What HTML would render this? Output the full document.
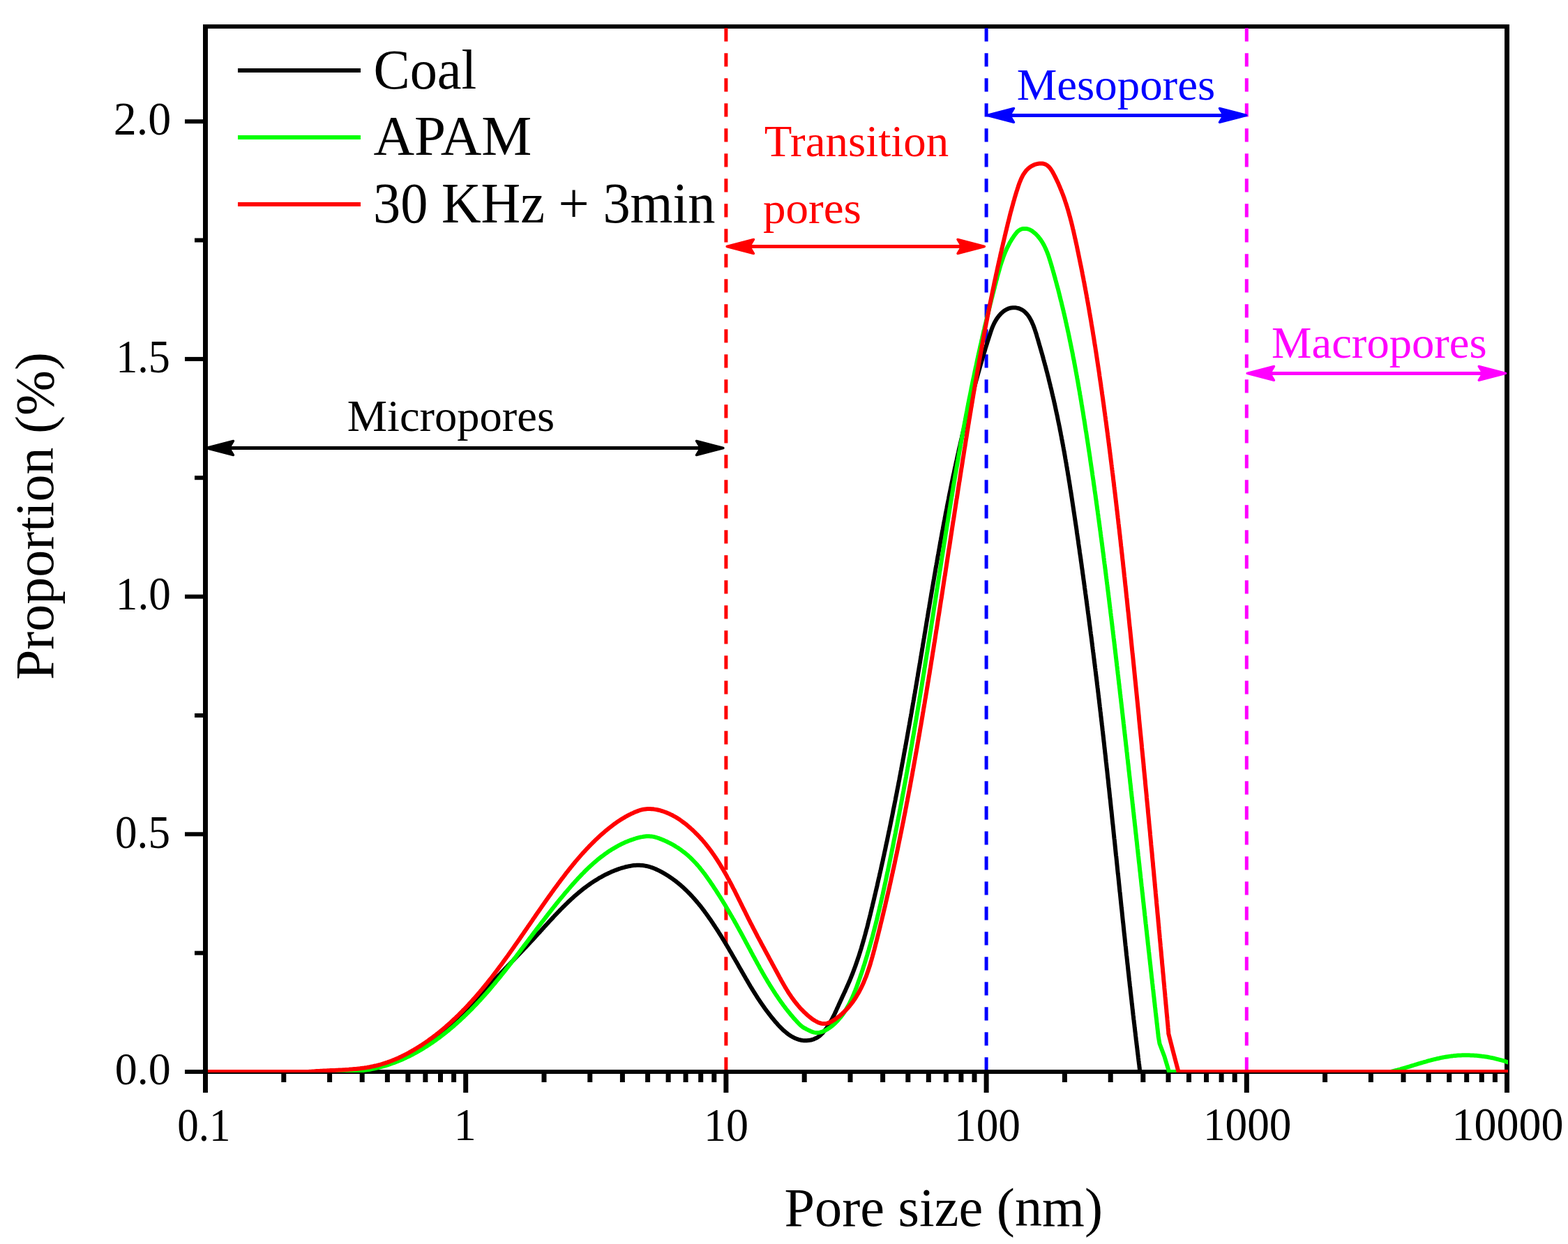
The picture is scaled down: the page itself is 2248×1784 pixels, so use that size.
<!DOCTYPE html>
<html><head><meta charset="utf-8"><style>
html,body{margin:0;padding:0;background:#fff;width:2248px;height:1784px;overflow:hidden}
svg{display:block}
</style></head><body>
<svg width="2248" height="1784" viewBox="0 0 2248 1784">
<defs><clipPath id="pc"><rect x="298" y="41" width="1864" height="1497"/></clipPath></defs>
<rect width="2248" height="1784" fill="#fff"/>
<rect x="291" y="35" width="1873" height="6" fill="#000"/>
<rect x="291" y="1534" width="1873" height="6" fill="#000"/>
<rect x="291" y="35" width="7" height="1505" fill="#000"/>
<rect x="2157" y="35" width="7" height="1505" fill="#000"/>
<rect x="291.0" y="1540" width="7" height="27" fill="#000"/>
<rect x="403.3" y="1540" width="7" height="12" fill="#000"/>
<rect x="469.1" y="1540" width="7" height="12" fill="#000"/>
<rect x="515.7" y="1540" width="7" height="12" fill="#000"/>
<rect x="551.9" y="1540" width="7" height="12" fill="#000"/>
<rect x="581.4" y="1540" width="7" height="12" fill="#000"/>
<rect x="606.4" y="1540" width="7" height="12" fill="#000"/>
<rect x="628.0" y="1540" width="7" height="12" fill="#000"/>
<rect x="647.1" y="1540" width="7" height="12" fill="#000"/>
<rect x="664.2" y="1540" width="7" height="27" fill="#000"/>
<rect x="776.5" y="1540" width="7" height="12" fill="#000"/>
<rect x="842.3" y="1540" width="7" height="12" fill="#000"/>
<rect x="888.9" y="1540" width="7" height="12" fill="#000"/>
<rect x="925.1" y="1540" width="7" height="12" fill="#000"/>
<rect x="954.6" y="1540" width="7" height="12" fill="#000"/>
<rect x="979.6" y="1540" width="7" height="12" fill="#000"/>
<rect x="1001.2" y="1540" width="7" height="12" fill="#000"/>
<rect x="1020.3" y="1540" width="7" height="12" fill="#000"/>
<rect x="1037.4" y="1540" width="7" height="27" fill="#000"/>
<rect x="1149.7" y="1540" width="7" height="12" fill="#000"/>
<rect x="1215.5" y="1540" width="7" height="12" fill="#000"/>
<rect x="1262.1" y="1540" width="7" height="12" fill="#000"/>
<rect x="1298.3" y="1540" width="7" height="12" fill="#000"/>
<rect x="1327.8" y="1540" width="7" height="12" fill="#000"/>
<rect x="1352.8" y="1540" width="7" height="12" fill="#000"/>
<rect x="1374.4" y="1540" width="7" height="12" fill="#000"/>
<rect x="1393.5" y="1540" width="7" height="12" fill="#000"/>
<rect x="1410.6" y="1540" width="7" height="27" fill="#000"/>
<rect x="1522.9" y="1540" width="7" height="12" fill="#000"/>
<rect x="1588.7" y="1540" width="7" height="12" fill="#000"/>
<rect x="1635.3" y="1540" width="7" height="12" fill="#000"/>
<rect x="1671.5" y="1540" width="7" height="12" fill="#000"/>
<rect x="1701.0" y="1540" width="7" height="12" fill="#000"/>
<rect x="1726.0" y="1540" width="7" height="12" fill="#000"/>
<rect x="1747.6" y="1540" width="7" height="12" fill="#000"/>
<rect x="1766.7" y="1540" width="7" height="12" fill="#000"/>
<rect x="1783.8" y="1540" width="7" height="27" fill="#000"/>
<rect x="1896.1" y="1540" width="7" height="12" fill="#000"/>
<rect x="1961.9" y="1540" width="7" height="12" fill="#000"/>
<rect x="2008.5" y="1540" width="7" height="12" fill="#000"/>
<rect x="2044.7" y="1540" width="7" height="12" fill="#000"/>
<rect x="2074.2" y="1540" width="7" height="12" fill="#000"/>
<rect x="2099.2" y="1540" width="7" height="12" fill="#000"/>
<rect x="2120.8" y="1540" width="7" height="12" fill="#000"/>
<rect x="2139.9" y="1540" width="7" height="12" fill="#000"/>
<rect x="2157.0" y="1540" width="7" height="27" fill="#000"/>
<rect x="265" y="1534.0" width="26" height="6" fill="#000"/>
<rect x="279" y="1363.7" width="12" height="6" fill="#000"/>
<rect x="265" y="1193.3" width="26" height="6" fill="#000"/>
<rect x="279" y="1023.0" width="12" height="6" fill="#000"/>
<rect x="265" y="852.6" width="26" height="6" fill="#000"/>
<rect x="279" y="682.2" width="12" height="6" fill="#000"/>
<rect x="265" y="511.9" width="26" height="6" fill="#000"/>
<rect x="279" y="341.5" width="12" height="6" fill="#000"/>
<rect x="265" y="171.2" width="26" height="6" fill="#000"/>
<line x1="1040.9" y1="40.2" x2="1040.9" y2="1534" stroke="#ff0000" stroke-width="5" stroke-dasharray="19.4 16.6"/>
<line x1="1414.1" y1="40.2" x2="1414.1" y2="1534" stroke="#0000ff" stroke-width="5" stroke-dasharray="19.4 16.6"/>
<line x1="1787.3" y1="40.2" x2="1787.3" y2="1534" stroke="#ff00ff" stroke-width="5" stroke-dasharray="19.4 16.6"/>
<g clip-path="url(#pc)" fill="none" stroke-width="6" stroke-linejoin="round">
<path d="M298.0 1537.0 L480.0 1537.0 L482.1 1536.9 L484.1 1536.8 L486.0 1536.7 L488.0 1536.6 L490.0 1536.5 L491.9 1536.3 L493.9 1536.2 L495.9 1536.0 L497.9 1535.9 L499.9 1535.7 L501.8 1535.5 L503.8 1535.3 L505.8 1535.1 L507.8 1534.8 L509.8 1534.6 L511.8 1534.3 L513.7 1534.0 L515.7 1533.7 L517.7 1533.4 L519.7 1533.1 L521.7 1532.8 L523.6 1532.4 L525.6 1532.1 L527.6 1531.7 L529.6 1531.3 L531.5 1530.9 L533.5 1530.5 L535.5 1530.0 L537.4 1529.6 L539.4 1529.1 L541.4 1528.7 L543.3 1528.2 L545.3 1527.7 L547.2 1527.1 L549.2 1526.6 L551.1 1526.0 L553.0 1525.5 L555.0 1524.9 L556.9 1524.3 L558.8 1523.7 L560.7 1523.1 L562.6 1522.4 L564.5 1521.8 L566.4 1521.1 L568.3 1520.4 L570.2 1519.7 L572.1 1519.0 L574.0 1518.3 L575.8 1517.5 L577.7 1516.8 L579.5 1516.0 L581.4 1515.2 L583.2 1514.4 L585.0 1513.5 L586.8 1512.7 L588.7 1511.8 L590.5 1511.0 L592.3 1510.1 L594.0 1509.2 L595.8 1508.3 L597.6 1507.3 L599.3 1506.4 L601.1 1505.4 L602.8 1504.4 L604.5 1503.4 L606.2 1502.4 L607.9 1501.3 L609.6 1500.3 L611.3 1499.2 L613.0 1498.1 L614.6 1497.0 L616.3 1495.9 L617.9 1494.8 L619.5 1493.6 L621.2 1492.5 L622.8 1491.3 L624.3 1490.1 L625.9 1488.9 L627.5 1487.7 L629.0 1486.4 L630.6 1485.2 L632.1 1483.9 L633.7 1482.6 L635.2 1481.3 L636.7 1480.0 L638.2 1478.7 L639.7 1477.4 L641.2 1476.0 L642.6 1474.7 L644.1 1473.3 L645.6 1472.0 L647.0 1470.6 L648.5 1469.2 L649.9 1467.8 L651.3 1466.4 L652.8 1465.0 L654.2 1463.6 L655.6 1462.2 L657.0 1460.7 L658.4 1459.3 L659.8 1457.9 L661.2 1456.4 L662.6 1454.9 L664.0 1453.5 L665.4 1452.0 L666.7 1450.6 L668.1 1449.1 L669.5 1447.6 L670.9 1446.1 L672.2 1444.7 L673.6 1443.2 L675.0 1441.7 L676.3 1440.2 L677.7 1438.7 L679.0 1437.2 L680.4 1435.8 L681.7 1434.3 L683.1 1432.8 L684.4 1431.3 L685.8 1429.8 L687.2 1428.3 L688.5 1426.9 L689.9 1425.4 L691.2 1423.9 L692.6 1422.4 L693.9 1421.0 L695.3 1419.5 L696.7 1418.1 L698.0 1416.6 L699.4 1415.1 L700.7 1413.7 L702.1 1412.2 L703.5 1410.8 L704.8 1409.4 L706.2 1407.9 L707.6 1406.5 L708.9 1405.0 L710.3 1403.6 L711.7 1402.2 L713.1 1400.7 L714.4 1399.3 L715.8 1397.9 L717.2 1396.5 L718.5 1395.0 L719.9 1393.6 L721.3 1392.2 L722.7 1390.8 L724.0 1389.3 L725.4 1387.9 L726.8 1386.5 L728.1 1385.1 L729.5 1383.7 L730.9 1382.2 L732.3 1380.8 L733.6 1379.4 L735.0 1378.0 L736.4 1376.5 L737.7 1375.1 L739.1 1373.7 L740.5 1372.3 L741.9 1370.8 L743.2 1369.4 L744.6 1368.0 L746.0 1366.5 L747.3 1365.1 L748.7 1363.7 L750.1 1362.2 L751.4 1360.8 L752.8 1359.3 L754.2 1357.9 L755.5 1356.5 L756.9 1355.0 L758.2 1353.5 L759.6 1352.1 L760.9 1350.6 L762.3 1349.2 L763.7 1347.7 L765.0 1346.2 L766.4 1344.8 L767.7 1343.3 L769.1 1341.8 L770.4 1340.3 L771.8 1338.8 L773.1 1337.4 L774.5 1335.9 L775.8 1334.4 L777.2 1332.9 L778.5 1331.4 L779.9 1329.9 L781.2 1328.4 L782.6 1326.9 L783.9 1325.5 L785.3 1324.0 L786.6 1322.5 L788.0 1321.0 L789.4 1319.5 L790.7 1318.1 L792.1 1316.6 L793.5 1315.1 L794.8 1313.6 L796.2 1312.2 L797.6 1310.7 L799.0 1309.3 L800.4 1307.8 L801.8 1306.4 L803.2 1304.9 L804.6 1303.5 L806.0 1302.1 L807.4 1300.7 L808.8 1299.3 L810.2 1297.9 L811.7 1296.5 L813.1 1295.1 L814.5 1293.7 L816.0 1292.3 L817.4 1291.0 L818.9 1289.6 L820.4 1288.3 L821.8 1286.9 L823.3 1285.6 L824.8 1284.3 L826.3 1283.0 L827.8 1281.7 L829.3 1280.4 L830.9 1279.1 L832.4 1277.9 L833.9 1276.7 L835.5 1275.4 L837.0 1274.2 L838.6 1273.0 L840.2 1271.8 L841.8 1270.6 L843.4 1269.5 L845.0 1268.3 L846.6 1267.2 L848.2 1266.1 L849.9 1265.0 L851.5 1263.9 L853.2 1262.8 L854.9 1261.8 L856.6 1260.8 L858.3 1259.7 L860.0 1258.7 L861.7 1257.8 L863.4 1256.8 L865.2 1255.9 L866.9 1254.9 L868.7 1254.0 L870.5 1253.2 L872.3 1252.3 L874.1 1251.5 L876.0 1250.6 L877.8 1249.8 L879.7 1249.1 L881.5 1248.3 L883.4 1247.6 L885.3 1246.9 L887.3 1246.2 L889.2 1245.5 L891.1 1244.9 L893.1 1244.3 L895.1 1243.8 L897.0 1243.2 L899.0 1242.8 L901.0 1242.3 L903.0 1242.0 L905.0 1241.6 L906.9 1241.3 L908.9 1241.1 L910.9 1240.9 L912.9 1240.8 L914.9 1240.8 L916.9 1240.8 L918.9 1240.9 L920.8 1241.1 L922.8 1241.3 L924.8 1241.6 L926.7 1242.0 L928.7 1242.4 L930.6 1242.9 L932.5 1243.5 L934.4 1244.1 L936.3 1244.8 L938.2 1245.6 L940.1 1246.3 L941.9 1247.2 L943.8 1248.0 L945.6 1249.0 L947.4 1249.9 L949.2 1250.9 L951.0 1251.9 L952.7 1252.9 L954.5 1253.9 L956.2 1255.0 L957.9 1256.1 L959.6 1257.2 L961.2 1258.3 L962.9 1259.4 L964.5 1260.6 L966.1 1261.8 L967.7 1262.9 L969.3 1264.2 L970.8 1265.4 L972.4 1266.6 L973.9 1267.9 L975.4 1269.1 L976.9 1270.4 L978.4 1271.7 L979.8 1273.1 L981.3 1274.4 L982.7 1275.8 L984.1 1277.1 L985.5 1278.5 L986.9 1279.9 L988.3 1281.3 L989.7 1282.7 L991.0 1284.2 L992.4 1285.6 L993.7 1287.1 L995.0 1288.5 L996.3 1290.0 L997.6 1291.5 L998.9 1293.0 L1000.2 1294.6 L1001.5 1296.1 L1002.7 1297.6 L1004.0 1299.2 L1005.2 1300.7 L1006.4 1302.3 L1007.6 1303.9 L1008.9 1305.5 L1010.1 1307.1 L1011.2 1308.7 L1012.4 1310.3 L1013.6 1312.0 L1014.8 1313.6 L1015.9 1315.2 L1017.1 1316.9 L1018.3 1318.6 L1019.4 1320.2 L1020.5 1321.9 L1021.7 1323.6 L1022.8 1325.3 L1023.9 1327.0 L1025.0 1328.7 L1026.1 1330.4 L1027.3 1332.1 L1028.4 1333.8 L1029.5 1335.5 L1030.5 1337.2 L1031.6 1339.0 L1032.7 1340.7 L1033.8 1342.4 L1034.9 1344.2 L1035.9 1345.9 L1037.0 1347.7 L1038.1 1349.4 L1039.1 1351.2 L1040.2 1352.9 L1041.2 1354.7 L1042.3 1356.4 L1043.3 1358.2 L1044.4 1359.9 L1045.4 1361.7 L1046.4 1363.4 L1047.4 1365.2 L1048.5 1366.9 L1049.5 1368.7 L1050.5 1370.4 L1051.5 1372.2 L1052.5 1373.9 L1053.5 1375.6 L1054.5 1377.4 L1055.5 1379.1 L1056.5 1380.8 L1057.5 1382.6 L1058.5 1384.3 L1059.4 1386.0 L1060.4 1387.7 L1061.4 1389.4 L1062.4 1391.1 L1063.3 1392.8 L1064.3 1394.5 L1065.3 1396.2 L1066.2 1397.9 L1067.2 1399.5 L1068.2 1401.2 L1069.1 1402.9 L1070.1 1404.6 L1071.1 1406.2 L1072.0 1407.9 L1073.0 1409.5 L1074.0 1411.2 L1074.9 1412.8 L1075.9 1414.5 L1076.9 1416.1 L1077.9 1417.7 L1078.9 1419.4 L1079.9 1421.0 L1080.9 1422.6 L1081.9 1424.3 L1083.0 1425.9 L1084.0 1427.5 L1085.0 1429.1 L1086.1 1430.8 L1087.1 1432.4 L1088.2 1434.0 L1089.3 1435.6 L1090.4 1437.3 L1091.5 1438.9 L1092.6 1440.5 L1093.8 1442.1 L1094.9 1443.7 L1096.1 1445.4 L1097.2 1447.0 L1098.4 1448.6 L1099.6 1450.2 L1100.9 1451.9 L1102.1 1453.5 L1103.4 1455.1 L1104.6 1456.7 L1105.9 1458.4 L1107.2 1460.0 L1108.6 1461.6 L1109.9 1463.3 L1111.3 1464.9 L1112.7 1466.5 L1114.1 1468.1 L1115.5 1469.7 L1117.0 1471.3 L1118.5 1472.8 L1120.0 1474.4 L1121.5 1475.8 L1123.0 1477.3 L1124.6 1478.7 L1126.2 1480.0 L1127.8 1481.3 L1129.4 1482.6 L1131.0 1483.8 L1132.7 1484.9 L1134.4 1486.0 L1136.1 1487.0 L1137.9 1487.9 L1139.6 1488.8 L1141.4 1489.5 L1143.2 1490.2 L1145.1 1490.8 L1146.9 1491.3 L1148.8 1491.7 L1150.7 1492.0 L1152.7 1492.2 L1154.6 1492.3 L1156.6 1492.2 L1158.6 1492.1 L1160.6 1491.8 L1162.5 1491.5 L1164.5 1491.0 L1166.4 1490.4 L1168.2 1489.6 L1170.0 1488.8 L1171.8 1487.8 L1173.5 1486.7 L1175.1 1485.5 L1176.6 1484.2 L1178.1 1482.7 L1179.5 1481.3 L1180.8 1479.7 L1182.1 1478.1 L1183.4 1476.5 L1184.6 1474.9 L1185.8 1473.3 L1186.9 1471.6 L1188.0 1469.9 L1189.0 1468.2 L1190.1 1466.5 L1191.1 1464.7 L1192.0 1463.0 L1193.0 1461.2 L1193.9 1459.4 L1194.8 1457.6 L1195.7 1455.8 L1196.6 1454.0 L1197.4 1452.2 L1198.3 1450.4 L1199.1 1448.6 L1199.9 1446.7 L1200.8 1444.9 L1201.6 1443.1 L1202.4 1441.3 L1203.2 1439.4 L1204.1 1437.6 L1204.9 1435.8 L1205.7 1434.0 L1206.6 1432.1 L1207.4 1430.3 L1208.2 1428.5 L1209.1 1426.7 L1209.9 1424.9 L1210.7 1423.1 L1211.6 1421.3 L1212.4 1419.4 L1213.2 1417.6 L1214.0 1415.8 L1214.8 1414.0 L1215.6 1412.2 L1216.4 1410.3 L1217.2 1408.5 L1218.0 1406.7 L1218.8 1404.8 L1219.5 1403.0 L1220.3 1401.2 L1221.0 1399.3 L1221.8 1397.5 L1222.5 1395.6 L1223.2 1393.7 L1223.9 1391.9 L1224.6 1390.0 L1225.3 1388.2 L1226.0 1386.3 L1226.7 1384.4 L1227.3 1382.5 L1228.0 1380.6 L1228.6 1378.8 L1229.3 1376.9 L1229.9 1375.0 L1230.5 1373.1 L1231.2 1371.2 L1231.8 1369.3 L1232.4 1367.4 L1233.0 1365.5 L1233.6 1363.6 L1234.2 1361.7 L1234.8 1359.8 L1235.3 1357.9 L1235.9 1355.9 L1236.5 1354.0 L1237.0 1352.1 L1237.6 1350.2 L1238.1 1348.2 L1238.7 1346.3 L1239.2 1344.4 L1239.7 1342.5 L1240.3 1340.5 L1240.8 1338.6 L1241.3 1336.7 L1241.8 1334.7 L1242.3 1332.8 L1242.9 1330.9 L1243.4 1328.9 L1243.9 1327.0 L1244.4 1325.0 L1244.8 1323.1 L1245.3 1321.1 L1245.8 1319.2 L1246.3 1317.2 L1246.8 1315.3 L1247.3 1313.3 L1247.8 1311.4 L1248.2 1309.4 L1248.7 1307.5 L1249.2 1305.5 L1249.6 1303.6 L1250.1 1301.6 L1250.6 1299.7 L1251.0 1297.7 L1251.5 1295.8 L1252.0 1293.8 L1252.4 1291.9 L1252.9 1289.9 L1253.4 1288.0 L1253.8 1286.0 L1254.3 1284.1 L1254.7 1282.1 L1255.2 1280.2 L1255.6 1278.2 L1256.1 1276.3 L1256.6 1274.3 L1257.0 1272.4 L1257.5 1270.4 L1257.9 1268.4 L1258.3 1266.5 L1258.8 1264.5 L1259.2 1262.6 L1259.7 1260.6 L1260.1 1258.7 L1260.6 1256.7 L1261.0 1254.8 L1261.4 1252.8 L1261.9 1250.9 L1262.3 1248.9 L1262.8 1246.9 L1263.2 1245.0 L1263.6 1243.0 L1264.1 1241.1 L1264.5 1239.1 L1264.9 1237.2 L1265.4 1235.2 L1265.8 1233.3 L1266.2 1231.3 L1266.6 1229.3 L1267.1 1227.4 L1267.5 1225.4 L1267.9 1223.5 L1268.3 1221.5 L1268.8 1219.5 L1269.2 1217.6 L1269.6 1215.6 L1270.0 1213.7 L1270.4 1211.7 L1270.8 1209.8 L1271.3 1207.8 L1271.7 1205.8 L1272.1 1203.9 L1272.5 1201.9 L1272.9 1200.0 L1273.3 1198.0 L1273.7 1196.0 L1274.1 1194.1 L1274.5 1192.1 L1275.0 1190.2 L1275.4 1188.2 L1275.8 1186.2 L1276.2 1184.3 L1276.6 1182.3 L1277.0 1180.4 L1277.4 1178.4 L1277.8 1176.4 L1278.2 1174.5 L1278.6 1172.5 L1279.0 1170.5 L1279.4 1168.6 L1279.8 1166.6 L1280.2 1164.7 L1280.5 1162.7 L1280.9 1160.7 L1281.3 1158.8 L1281.7 1156.8 L1282.1 1154.9 L1282.5 1152.9 L1282.9 1150.9 L1283.3 1149.0 L1283.7 1147.0 L1284.0 1145.0 L1284.4 1143.1 L1284.8 1141.1 L1285.2 1139.1 L1285.6 1137.2 L1286.0 1135.2 L1286.3 1133.3 L1286.7 1131.3 L1287.1 1129.3 L1287.5 1127.4 L1287.9 1125.4 L1288.2 1123.4 L1288.6 1121.5 L1289.0 1119.5 L1289.4 1117.5 L1289.7 1115.6 L1290.1 1113.6 L1290.5 1111.6 L1290.9 1109.7 L1291.2 1107.7 L1291.6 1105.7 L1292.0 1103.8 L1292.3 1101.8 L1292.7 1099.8 L1293.1 1097.9 L1293.4 1095.9 L1293.8 1093.9 L1294.2 1092.0 L1294.5 1090.0 L1294.9 1088.0 L1295.3 1086.1 L1295.6 1084.1 L1296.0 1082.1 L1296.3 1080.2 L1296.7 1078.2 L1297.1 1076.2 L1297.4 1074.3 L1297.8 1072.3 L1298.1 1070.3 L1298.5 1068.4 L1298.9 1066.4 L1299.2 1064.4 L1299.6 1062.4 L1299.9 1060.5 L1300.3 1058.5 L1300.6 1056.5 L1301.0 1054.6 L1301.3 1052.6 L1301.7 1050.6 L1302.0 1048.7 L1302.4 1046.7 L1302.7 1044.7 L1303.1 1042.7 L1303.4 1040.8 L1303.8 1038.8 L1304.1 1036.8 L1304.5 1034.9 L1304.8 1032.9 L1305.2 1030.9 L1305.5 1029.0 L1305.9 1027.0 L1306.2 1025.0 L1306.6 1023.0 L1306.9 1021.1 L1307.2 1019.1 L1307.6 1017.1 L1307.9 1015.2 L1308.3 1013.2 L1308.6 1011.2 L1308.9 1009.2 L1309.3 1007.3 L1309.6 1005.3 L1310.0 1003.3 L1310.3 1001.3 L1310.6 999.4 L1311.0 997.4 L1311.3 995.4 L1311.7 993.5 L1312.0 991.5 L1312.3 989.5 L1312.7 987.5 L1313.0 985.6 L1313.3 983.6 L1313.7 981.6 L1314.0 979.6 L1314.3 977.7 L1314.7 975.7 L1315.0 973.7 L1315.3 971.7 L1315.7 969.8 L1316.0 967.8 L1316.3 965.8 L1316.6 963.8 L1317.0 961.9 L1317.3 959.9 L1317.6 957.9 L1318.0 955.9 L1318.3 954.0 L1318.6 952.0 L1319.0 950.0 L1319.3 948.0 L1319.6 946.1 L1319.9 944.1 L1320.3 942.1 L1320.6 940.1 L1320.9 938.2 L1321.3 936.2 L1321.6 934.2 L1321.9 932.2 L1322.2 930.3 L1322.6 928.3 L1322.9 926.3 L1323.2 924.3 L1323.5 922.4 L1323.9 920.4 L1324.2 918.4 L1324.5 916.4 L1324.9 914.5 L1325.2 912.5 L1325.5 910.5 L1325.8 908.5 L1326.2 906.6 L1326.5 904.6 L1326.8 902.6 L1327.1 900.6 L1327.5 898.7 L1327.8 896.7 L1328.1 894.7 L1328.4 892.7 L1328.8 890.7 L1329.1 888.8 L1329.4 886.8 L1329.8 884.8 L1330.1 882.8 L1330.4 880.9 L1330.7 878.9 L1331.1 876.9 L1331.4 874.9 L1331.7 873.0 L1332.1 871.0 L1332.4 869.0 L1332.7 867.0 L1333.1 865.1 L1333.4 863.1 L1333.7 861.1 L1334.0 859.1 L1334.4 857.2 L1334.7 855.2 L1335.0 853.2 L1335.4 851.2 L1335.7 849.3 L1336.0 847.3 L1336.4 845.3 L1336.7 843.3 L1337.0 841.4 L1337.4 839.4 L1337.7 837.4 L1338.1 835.4 L1338.4 833.5 L1338.7 831.5 L1339.1 829.5 L1339.4 827.5 L1339.7 825.6 L1340.1 823.6 L1340.4 821.6 L1340.8 819.6 L1341.1 817.7 L1341.4 815.7 L1341.8 813.7 L1342.1 811.8 L1342.5 809.8 L1342.8 807.8 L1343.2 805.8 L1343.5 803.9 L1343.9 801.9 L1344.2 799.9 L1344.6 797.9 L1344.9 796.0 L1345.3 794.0 L1345.6 792.0 L1346.0 790.1 L1346.3 788.1 L1346.7 786.1 L1347.0 784.1 L1347.4 782.2 L1347.7 780.2 L1348.1 778.2 L1348.4 776.3 L1348.8 774.3 L1349.1 772.3 L1349.5 770.4 L1349.9 768.4 L1350.2 766.4 L1350.6 764.4 L1350.9 762.5 L1351.3 760.5 L1351.7 758.5 L1352.0 756.6 L1352.4 754.6 L1352.8 752.6 L1353.1 750.7 L1353.5 748.7 L1353.9 746.7 L1354.3 744.8 L1354.6 742.8 L1355.0 740.8 L1355.4 738.9 L1355.7 736.9 L1356.1 734.9 L1356.5 733.0 L1356.9 731.0 L1357.3 729.0 L1357.6 727.1 L1358.0 725.1 L1358.4 723.1 L1358.8 721.2 L1359.2 719.2 L1359.6 717.3 L1360.0 715.3 L1360.3 713.3 L1360.7 711.4 L1361.1 709.4 L1361.5 707.4 L1361.9 705.5 L1362.3 703.5 L1362.7 701.6 L1363.1 699.6 L1363.5 697.6 L1363.9 695.7 L1364.3 693.7 L1364.7 691.7 L1365.1 689.8 L1365.5 687.8 L1365.9 685.9 L1366.3 683.9 L1366.7 681.9 L1367.2 680.0 L1367.6 678.0 L1368.0 676.1 L1368.4 674.1 L1368.8 672.2 L1369.2 670.2 L1369.7 668.2 L1370.1 666.3 L1370.5 664.3 L1370.9 662.4 L1371.4 660.4 L1371.8 658.5 L1372.2 656.5 L1372.7 654.6 L1373.1 652.6 L1373.5 650.7 L1374.0 648.7 L1374.4 646.7 L1374.8 644.8 L1375.3 642.8 L1375.7 640.9 L1376.2 638.9 L1376.6 637.0 L1377.1 635.0 L1377.5 633.1 L1378.0 631.1 L1378.4 629.2 L1378.9 627.2 L1379.3 625.3 L1379.8 623.3 L1380.2 621.4 L1380.7 619.4 L1381.2 617.5 L1381.6 615.6 L1382.1 613.6 L1382.6 611.7 L1383.0 609.7 L1383.5 607.8 L1384.0 605.8 L1384.5 603.9 L1384.9 601.9 L1385.4 600.0 L1385.9 598.0 L1386.4 596.1 L1386.9 594.2 L1387.3 592.2 L1387.8 590.3 L1388.3 588.3 L1388.8 586.4 L1389.3 584.5 L1389.8 582.5 L1390.3 580.6 L1390.8 578.6 L1391.3 576.7 L1391.8 574.8 L1392.3 572.8 L1392.8 570.9 L1393.3 569.0 L1393.8 567.0 L1394.3 565.1 L1394.8 563.1 L1395.3 561.2 L1395.9 559.3 L1396.4 557.3 L1396.9 555.4 L1397.4 553.5 L1397.9 551.5 L1398.5 549.6 L1399.0 547.7 L1399.5 545.8 L1400.1 543.8 L1400.6 541.9 L1401.1 540.0 L1401.7 538.0 L1402.2 536.1 L1402.7 534.2 L1403.3 532.3 L1403.8 530.3 L1404.4 528.4 L1404.9 526.5 L1405.5 524.5 L1406.0 522.6 L1406.6 520.7 L1407.1 518.8 L1407.7 516.9 L1408.3 514.9 L1408.8 513.0 L1409.4 511.1 L1410.0 509.2 L1410.5 507.3 L1411.1 505.4 L1411.7 503.5 L1412.3 501.6 L1412.8 499.7 L1413.4 497.8 L1414.0 495.9 L1414.6 494.0 L1415.2 492.1 L1415.8 490.2 L1416.4 488.3 L1417.0 486.4 L1417.6 484.6 L1418.2 482.7 L1418.8 480.8 L1419.4 479.0 L1420.0 477.1 L1420.6 475.3 L1421.3 473.4 L1421.9 471.6 L1422.6 469.7 L1423.4 467.9 L1424.2 466.1 L1425.0 464.3 L1425.9 462.5 L1426.9 460.7 L1428.0 458.9 L1429.1 457.1 L1430.3 455.4 L1431.6 453.7 L1433.0 452.0 L1434.4 450.4 L1435.9 448.9 L1437.5 447.5 L1439.1 446.2 L1440.8 445.1 L1442.6 444.0 L1444.4 443.1 L1446.2 442.4 L1448.1 441.8 L1450.0 441.5 L1452.0 441.3 L1453.9 441.2 L1455.9 441.3 L1457.8 441.6 L1459.6 442.0 L1461.4 442.5 L1463.0 443.2 L1464.6 444.0 L1466.2 444.9 L1467.6 445.9 L1469.0 447.0 L1470.3 448.3 L1471.6 449.6 L1472.8 451.0 L1474.0 452.5 L1475.1 454.1 L1476.1 455.7 L1477.1 457.4 L1478.0 459.2 L1479.0 461.0 L1479.8 462.9 L1480.7 464.9 L1481.5 466.8 L1482.2 468.9 L1483.0 470.9 L1483.7 473.0 L1484.4 475.1 L1485.1 477.2 L1485.8 479.3 L1486.4 481.5 L1487.0 483.6 L1487.7 485.7 L1488.3 487.9 L1488.9 490.0 L1489.5 492.1 L1490.1 494.2 L1490.7 496.3 L1491.3 498.4 L1491.9 500.4 L1492.5 502.5 L1493.1 504.6 L1493.7 506.6 L1494.3 508.7 L1494.8 510.7 L1495.4 512.7 L1495.9 514.8 L1496.5 516.8 L1497.0 518.8 L1497.6 520.8 L1498.1 522.8 L1498.7 524.8 L1499.2 526.8 L1499.7 528.8 L1500.2 530.8 L1500.7 532.7 L1501.3 534.7 L1501.8 536.7 L1502.3 538.7 L1502.8 540.6 L1503.3 542.6 L1503.7 544.5 L1504.2 546.5 L1504.7 548.4 L1505.2 550.4 L1505.7 552.3 L1506.1 554.2 L1506.6 556.2 L1507.1 558.1 L1507.5 560.0 L1508.0 561.9 L1508.4 563.9 L1508.9 565.8 L1509.3 567.7 L1509.8 569.6 L1510.2 571.5 L1510.7 573.4 L1511.1 575.3 L1511.5 577.2 L1511.9 579.1 L1512.4 581.1 L1512.8 583.0 L1513.2 584.9 L1513.6 586.8 L1514.0 588.7 L1514.4 590.6 L1514.8 592.5 L1515.3 594.4 L1515.7 596.3 L1516.1 598.2 L1516.4 600.1 L1516.8 602.0 L1517.2 603.9 L1517.6 605.8 L1518.0 607.7 L1518.4 609.6 L1518.8 611.5 L1519.2 613.4 L1519.5 615.4 L1519.9 617.3 L1520.3 619.2 L1520.7 621.1 L1521.0 623.0 L1521.4 625.0 L1521.8 626.9 L1522.1 628.8 L1522.5 630.8 L1522.9 632.7 L1523.2 634.6 L1523.6 636.6 L1524.0 638.5 L1524.3 640.5 L1524.7 642.4 L1525.0 644.3 L1525.4 646.3 L1525.7 648.2 L1526.1 650.2 L1526.4 652.2 L1526.8 654.1 L1527.1 656.1 L1527.4 658.0 L1527.8 660.0 L1528.1 662.0 L1528.5 663.9 L1528.8 665.9 L1529.1 667.8 L1529.5 669.8 L1529.8 671.8 L1530.1 673.8 L1530.5 675.7 L1530.8 677.7 L1531.1 679.7 L1531.4 681.7 L1531.8 683.6 L1532.1 685.6 L1532.4 687.6 L1532.7 689.6 L1533.1 691.6 L1533.4 693.6 L1533.7 695.5 L1534.0 697.5 L1534.3 699.5 L1534.6 701.5 L1535.0 703.5 L1535.3 705.5 L1535.6 707.5 L1535.9 709.5 L1536.2 711.5 L1536.5 713.4 L1536.8 715.4 L1537.1 717.4 L1537.4 719.4 L1537.7 721.4 L1538.0 723.4 L1538.3 725.4 L1538.6 727.4 L1538.9 729.4 L1539.2 731.4 L1539.5 733.4 L1539.8 735.4 L1540.1 737.4 L1540.4 739.4 L1540.7 741.4 L1541.0 743.4 L1541.3 745.4 L1541.6 747.4 L1541.9 749.4 L1542.2 751.4 L1542.5 753.4 L1542.8 755.4 L1543.1 757.4 L1543.4 759.4 L1543.7 761.4 L1543.9 763.4 L1544.2 765.4 L1544.5 767.4 L1544.8 769.4 L1545.1 771.4 L1545.4 773.4 L1545.7 775.4 L1546.0 777.4 L1546.2 779.4 L1546.5 781.4 L1546.8 783.4 L1547.1 785.4 L1547.4 787.4 L1547.7 789.4 L1547.9 791.4 L1548.2 793.4 L1548.5 795.4 L1548.8 797.3 L1549.1 799.3 L1549.4 801.3 L1549.6 803.3 L1549.9 805.3 L1550.2 807.3 L1550.5 809.3 L1550.7 811.3 L1551.0 813.3 L1551.3 815.3 L1551.6 817.3 L1551.9 819.3 L1552.1 821.2 L1552.4 823.2 L1552.7 825.2 L1553.0 827.2 L1553.2 829.2 L1553.5 831.2 L1553.8 833.2 L1554.1 835.2 L1554.3 837.2 L1554.6 839.1 L1554.9 841.1 L1555.1 843.1 L1555.4 845.1 L1555.7 847.1 L1556.0 849.1 L1556.2 851.1 L1556.5 853.1 L1556.8 855.0 L1557.0 857.0 L1557.3 859.0 L1557.6 861.0 L1557.8 863.0 L1558.1 865.0 L1558.4 867.0 L1558.6 868.9 L1558.9 870.9 L1559.2 872.9 L1559.4 874.9 L1559.7 876.9 L1559.9 878.9 L1560.2 880.8 L1560.5 882.8 L1560.7 884.8 L1561.0 886.8 L1561.3 888.8 L1561.5 890.8 L1561.8 892.7 L1562.0 894.7 L1562.3 896.7 L1562.6 898.7 L1562.8 900.7 L1563.1 902.7 L1563.3 904.6 L1563.6 906.6 L1563.8 908.6 L1564.1 910.6 L1564.4 912.6 L1564.6 914.5 L1564.9 916.5 L1565.1 918.5 L1565.4 920.5 L1565.6 922.5 L1565.9 924.5 L1566.1 926.4 L1566.4 928.4 L1566.6 930.4 L1566.9 932.4 L1567.1 934.4 L1567.4 936.3 L1567.6 938.3 L1567.9 940.3 L1568.1 942.3 L1568.4 944.3 L1568.6 946.2 L1568.9 948.2 L1569.1 950.2 L1569.4 952.2 L1569.6 954.2 L1569.9 956.1 L1570.1 958.1 L1570.4 960.1 L1570.6 962.1 L1570.9 964.1 L1571.1 966.1 L1571.3 968.0 L1571.6 970.0 L1571.8 972.0 L1572.1 974.0 L1572.3 976.0 L1572.6 977.9 L1572.8 979.9 L1573.0 981.9 L1573.3 983.9 L1573.5 985.9 L1573.8 987.9 L1574.0 989.8 L1574.2 991.8 L1574.5 993.8 L1574.7 995.8 L1574.9 997.8 L1575.2 999.7 L1575.4 1001.7 L1575.7 1003.7 L1575.9 1005.7 L1576.1 1007.7 L1576.4 1009.7 L1576.6 1011.6 L1576.8 1013.6 L1577.1 1015.6 L1577.3 1017.6 L1577.5 1019.6 L1577.8 1021.6 L1578.0 1023.5 L1578.2 1025.5 L1578.4 1027.5 L1578.7 1029.5 L1578.9 1031.5 L1579.1 1033.5 L1579.4 1035.5 L1579.6 1037.4 L1579.8 1039.4 L1580.1 1041.4 L1580.3 1043.4 L1580.5 1045.4 L1580.7 1047.4 L1581.0 1049.4 L1581.2 1051.3 L1581.4 1053.3 L1581.6 1055.3 L1581.9 1057.3 L1582.1 1059.3 L1582.3 1061.3 L1582.5 1063.3 L1582.8 1065.3 L1583.0 1067.2 L1583.2 1069.2 L1583.4 1071.2 L1583.6 1073.2 L1583.9 1075.2 L1584.1 1077.2 L1584.3 1079.2 L1584.5 1081.2 L1584.8 1083.1 L1585.0 1085.1 L1585.2 1087.1 L1585.4 1089.1 L1585.6 1091.1 L1585.8 1093.1 L1586.1 1095.1 L1586.3 1097.1 L1586.5 1099.1 L1586.7 1101.0 L1586.9 1103.0 L1587.2 1105.0 L1587.4 1107.0 L1587.6 1109.0 L1587.8 1111.0 L1588.0 1113.0 L1588.2 1115.0 L1588.5 1117.0 L1588.7 1119.0 L1588.9 1120.9 L1589.1 1122.9 L1589.3 1124.9 L1589.5 1126.9 L1589.7 1128.9 L1590.0 1130.9 L1590.2 1132.9 L1590.4 1134.9 L1590.6 1136.9 L1590.8 1138.9 L1591.0 1140.9 L1591.2 1142.9 L1591.4 1144.8 L1591.7 1146.8 L1591.9 1148.8 L1592.1 1150.8 L1592.3 1152.8 L1592.5 1154.8 L1592.7 1156.8 L1592.9 1158.8 L1593.1 1160.8 L1593.4 1162.8 L1593.6 1164.8 L1593.8 1166.8 L1594.0 1168.7 L1594.2 1170.7 L1594.4 1172.7 L1594.6 1174.7 L1594.8 1176.7 L1595.0 1178.7 L1595.2 1180.7 L1595.5 1182.7 L1595.7 1184.7 L1595.9 1186.7 L1596.1 1188.7 L1596.3 1190.7 L1596.5 1192.7 L1596.7 1194.7 L1596.9 1196.7 L1597.1 1198.6 L1597.3 1200.6 L1597.5 1202.6 L1597.8 1204.6 L1598.0 1206.6 L1598.2 1208.6 L1598.4 1210.6 L1598.6 1212.6 L1598.8 1214.6 L1599.0 1216.6 L1599.2 1218.6 L1599.4 1220.6 L1599.6 1222.6 L1599.8 1224.6 L1600.0 1226.6 L1600.3 1228.5 L1600.5 1230.5 L1600.7 1232.5 L1600.9 1234.5 L1601.1 1236.5 L1601.3 1238.5 L1601.5 1240.5 L1601.7 1242.5 L1601.9 1244.5 L1602.1 1246.5 L1602.3 1248.5 L1602.5 1250.5 L1602.7 1252.5 L1603.0 1254.5 L1603.2 1256.5 L1603.4 1258.5 L1603.6 1260.4 L1603.8 1262.4 L1604.0 1264.4 L1604.2 1266.4 L1604.4 1268.4 L1604.6 1270.4 L1604.8 1272.4 L1605.0 1274.4 L1605.2 1276.4 L1605.4 1278.4 L1605.7 1280.4 L1605.9 1282.4 L1606.1 1284.4 L1606.3 1286.4 L1606.5 1288.4 L1606.7 1290.4 L1606.9 1292.3 L1607.1 1294.3 L1607.3 1296.3 L1607.5 1298.3 L1607.7 1300.3 L1607.9 1302.3 L1608.2 1304.3 L1608.4 1306.3 L1608.6 1308.3 L1608.8 1310.3 L1609.0 1312.3 L1609.2 1314.3 L1609.4 1316.3 L1609.6 1318.3 L1609.8 1320.3 L1610.0 1322.3 L1610.3 1324.2 L1610.5 1326.2 L1610.7 1328.2 L1610.9 1330.2 L1611.1 1332.2 L1611.3 1334.2 L1611.5 1336.2 L1611.7 1338.2 L1611.9 1340.2 L1612.2 1342.2 L1612.4 1344.2 L1612.6 1346.2 L1612.8 1348.2 L1613.0 1350.2 L1613.2 1352.1 L1613.4 1354.1 L1613.6 1356.1 L1613.9 1358.1 L1614.1 1360.1 L1614.3 1362.1 L1614.5 1364.1 L1614.7 1366.1 L1614.9 1368.1 L1615.1 1370.1 L1615.4 1372.1 L1615.6 1374.1 L1615.8 1376.0 L1616.0 1378.0 L1616.2 1380.0 L1616.4 1382.0 L1616.7 1384.0 L1616.9 1386.0 L1617.1 1388.0 L1617.3 1390.0 L1617.5 1392.0 L1617.7 1394.0 L1618.0 1396.0 L1618.2 1397.9 L1618.4 1399.9 L1618.6 1401.9 L1618.8 1403.9 L1619.0 1405.9 L1619.3 1407.9 L1619.5 1409.9 L1619.7 1411.9 L1619.9 1413.9 L1620.2 1415.9 L1620.4 1417.8 L1620.6 1419.8 L1620.8 1421.8 L1621.0 1423.8 L1621.3 1425.8 L1621.5 1427.8 L1621.7 1429.8 L1621.9 1431.8 L1622.2 1433.8 L1622.4 1435.7 L1622.6 1437.7 L1622.8 1439.7 L1623.1 1441.7 L1623.3 1443.7 L1623.5 1445.7 L1623.7 1447.7 L1624.0 1449.7 L1624.2 1451.6 L1624.4 1453.6 L1624.6 1455.6 L1624.9 1457.6 L1625.1 1459.6 L1625.3 1461.6 L1625.6 1463.6 L1625.8 1465.6 L1626.0 1467.5 L1626.3 1469.5 L1626.5 1471.5 L1626.7 1473.5 L1627.0 1475.5 L1627.2 1477.5 L1627.4 1479.5 L1627.7 1481.4 L1627.9 1483.4 L1628.1 1485.4 L1628.4 1487.4 L1628.6 1489.4 L1628.8 1491.4 L1629.1 1493.3 L1629.3 1495.3 L1629.5 1497.3 L1629.8 1499.3 L1630.0 1501.3 L1630.3 1503.3 L1630.5 1505.2 L1630.7 1507.2 L1631.0 1509.2 L1631.2 1511.2 L1631.5 1513.2 L1631.7 1515.2 L1631.9 1517.1 L1632.2 1519.1 L1632.4 1521.1 L1632.7 1523.1 L1632.9 1525.1 L1633.2 1527.0 L1633.4 1529.0 L1633.6 1531.0 L1633.9 1533.0 L1634.1 1535.0 L1634.8 1537.0 L2170.0 1537.0" stroke="#000000"/>
<path d="M298.0 1537.0 L500.0 1537.0 L501.7 1536.6 L503.7 1536.5 L505.8 1536.4 L507.9 1536.3 L509.9 1536.2 L512.0 1536.0 L514.0 1535.9 L516.1 1535.7 L518.1 1535.4 L520.1 1535.2 L522.1 1534.9 L524.1 1534.6 L526.1 1534.3 L528.1 1534.0 L530.1 1533.7 L532.1 1533.3 L534.1 1532.9 L536.0 1532.5 L538.0 1532.1 L540.0 1531.6 L541.9 1531.2 L543.9 1530.7 L545.8 1530.2 L547.7 1529.6 L549.6 1529.1 L551.5 1528.5 L553.5 1528.0 L555.4 1527.4 L557.2 1526.8 L559.1 1526.1 L561.0 1525.5 L562.9 1524.8 L564.8 1524.1 L566.6 1523.4 L568.5 1522.7 L570.3 1522.0 L572.1 1521.2 L574.0 1520.5 L575.8 1519.7 L577.6 1518.9 L579.4 1518.1 L581.2 1517.3 L583.0 1516.4 L584.8 1515.5 L586.6 1514.7 L588.4 1513.8 L590.2 1512.9 L591.9 1512.0 L593.7 1511.0 L595.4 1510.1 L597.2 1509.1 L598.9 1508.2 L600.6 1507.2 L602.4 1506.2 L604.1 1505.2 L605.8 1504.1 L607.5 1503.1 L609.2 1502.0 L610.9 1501.0 L612.6 1499.9 L614.2 1498.8 L615.9 1497.7 L617.6 1496.6 L619.2 1495.5 L620.9 1494.4 L622.5 1493.2 L624.2 1492.1 L625.8 1490.9 L627.4 1489.7 L629.0 1488.5 L630.6 1487.3 L632.2 1486.1 L633.8 1484.9 L635.4 1483.7 L637.0 1482.4 L638.6 1481.2 L640.1 1479.9 L641.7 1478.7 L643.2 1477.4 L644.8 1476.1 L646.3 1474.8 L647.9 1473.5 L649.4 1472.2 L650.9 1470.9 L652.4 1469.6 L653.9 1468.3 L655.4 1466.9 L656.9 1465.6 L658.4 1464.2 L659.9 1462.9 L661.3 1461.5 L662.8 1460.1 L664.3 1458.8 L665.7 1457.4 L667.1 1456.0 L668.6 1454.6 L670.0 1453.2 L671.4 1451.8 L672.9 1450.4 L674.3 1449.0 L675.7 1447.6 L677.1 1446.1 L678.5 1444.7 L679.8 1443.3 L681.2 1441.8 L682.6 1440.4 L684.0 1438.9 L685.3 1437.5 L686.7 1436.0 L688.0 1434.6 L689.4 1433.1 L690.7 1431.6 L692.1 1430.1 L693.4 1428.6 L694.7 1427.2 L696.0 1425.7 L697.4 1424.2 L698.7 1422.7 L700.0 1421.2 L701.3 1419.7 L702.6 1418.2 L703.9 1416.6 L705.2 1415.1 L706.4 1413.6 L707.7 1412.1 L709.0 1410.6 L710.3 1409.0 L711.5 1407.5 L712.8 1405.9 L714.1 1404.4 L715.3 1402.9 L716.6 1401.3 L717.8 1399.8 L719.1 1398.2 L720.3 1396.7 L721.6 1395.1 L722.8 1393.5 L724.1 1392.0 L725.3 1390.4 L726.5 1388.8 L727.8 1387.3 L729.0 1385.7 L730.2 1384.1 L731.4 1382.6 L732.7 1381.0 L733.9 1379.4 L735.1 1377.8 L736.3 1376.2 L737.5 1374.7 L738.8 1373.1 L740.0 1371.5 L741.2 1369.9 L742.4 1368.3 L743.6 1366.7 L744.8 1365.1 L746.0 1363.5 L747.2 1361.9 L748.4 1360.3 L749.6 1358.7 L750.8 1357.1 L752.0 1355.5 L753.3 1353.9 L754.5 1352.3 L755.7 1350.7 L756.9 1349.1 L758.1 1347.5 L759.3 1345.9 L760.5 1344.3 L761.7 1342.7 L762.9 1341.1 L764.1 1339.5 L765.3 1337.9 L766.5 1336.3 L767.7 1334.7 L768.9 1333.1 L770.1 1331.5 L771.4 1329.9 L772.6 1328.3 L773.8 1326.7 L775.0 1325.1 L776.2 1323.5 L777.4 1321.9 L778.7 1320.4 L779.9 1318.8 L781.1 1317.2 L782.3 1315.6 L783.6 1314.0 L784.8 1312.4 L786.0 1310.8 L787.3 1309.2 L788.5 1307.6 L789.7 1306.1 L791.0 1304.5 L792.2 1302.9 L793.5 1301.3 L794.7 1299.7 L796.0 1298.2 L797.2 1296.6 L798.5 1295.0 L799.8 1293.5 L801.0 1291.9 L802.3 1290.3 L803.6 1288.8 L804.9 1287.2 L806.2 1285.7 L807.5 1284.1 L808.7 1282.6 L810.0 1281.0 L811.3 1279.5 L812.7 1278.0 L814.0 1276.4 L815.3 1274.9 L816.6 1273.4 L817.9 1271.8 L819.3 1270.3 L820.6 1268.8 L821.9 1267.3 L823.3 1265.8 L824.6 1264.3 L826.0 1262.8 L827.4 1261.3 L828.7 1259.8 L830.1 1258.3 L831.5 1256.9 L832.9 1255.4 L834.3 1253.9 L835.7 1252.5 L837.1 1251.1 L838.5 1249.6 L839.9 1248.2 L841.4 1246.8 L842.8 1245.4 L844.3 1244.0 L845.7 1242.7 L847.2 1241.3 L848.7 1240.0 L850.2 1238.6 L851.7 1237.3 L853.2 1236.0 L854.7 1234.7 L856.2 1233.4 L857.7 1232.2 L859.3 1230.9 L860.8 1229.7 L862.4 1228.5 L864.0 1227.3 L865.6 1226.1 L867.1 1224.9 L868.8 1223.8 L870.4 1222.7 L872.0 1221.5 L873.6 1220.4 L875.3 1219.4 L877.0 1218.3 L878.6 1217.3 L880.3 1216.3 L882.0 1215.3 L883.7 1214.3 L885.5 1213.3 L887.2 1212.4 L889.0 1211.5 L890.7 1210.6 L892.5 1209.8 L894.3 1208.9 L896.1 1208.1 L897.9 1207.3 L899.8 1206.6 L901.6 1205.8 L903.5 1205.1 L905.4 1204.4 L907.3 1203.8 L909.2 1203.1 L911.1 1202.5 L913.0 1201.9 L915.0 1201.4 L916.9 1200.9 L918.9 1200.4 L920.9 1200.1 L922.9 1199.7 L924.9 1199.5 L926.8 1199.3 L928.8 1199.2 L930.8 1199.3 L932.8 1199.4 L934.8 1199.6 L936.7 1199.9 L938.7 1200.4 L940.6 1200.9 L942.6 1201.5 L944.5 1202.1 L946.4 1202.9 L948.3 1203.6 L950.2 1204.4 L952.0 1205.1 L953.9 1206.0 L955.7 1206.8 L957.5 1207.7 L959.3 1208.6 L961.1 1209.5 L962.8 1210.4 L964.6 1211.4 L966.3 1212.4 L968.0 1213.4 L969.7 1214.5 L971.4 1215.5 L973.1 1216.6 L974.7 1217.8 L976.3 1218.9 L977.9 1220.1 L979.5 1221.3 L981.1 1222.5 L982.6 1223.7 L984.2 1225.0 L985.7 1226.3 L987.2 1227.6 L988.6 1228.9 L990.1 1230.3 L991.5 1231.7 L992.9 1233.1 L994.3 1234.5 L995.7 1236.0 L997.1 1237.4 L998.4 1238.9 L999.8 1240.4 L1001.1 1241.9 L1002.4 1243.4 L1003.7 1245.0 L1004.9 1246.6 L1006.2 1248.1 L1007.4 1249.7 L1008.6 1251.3 L1009.9 1252.9 L1011.1 1254.5 L1012.3 1256.2 L1013.4 1257.8 L1014.6 1259.5 L1015.8 1261.1 L1016.9 1262.8 L1018.1 1264.4 L1019.2 1266.1 L1020.3 1267.8 L1021.5 1269.4 L1022.6 1271.1 L1023.7 1272.8 L1024.8 1274.5 L1025.9 1276.1 L1027.0 1277.8 L1028.0 1279.5 L1029.1 1281.2 L1030.2 1282.9 L1031.2 1284.5 L1032.3 1286.2 L1033.4 1287.9 L1034.4 1289.6 L1035.5 1291.3 L1036.5 1293.0 L1037.5 1294.7 L1038.6 1296.4 L1039.6 1298.1 L1040.6 1299.8 L1041.6 1301.5 L1042.6 1303.2 L1043.6 1304.9 L1044.6 1306.6 L1045.6 1308.3 L1046.6 1310.0 L1047.6 1311.7 L1048.6 1313.4 L1049.6 1315.1 L1050.6 1316.9 L1051.6 1318.6 L1052.6 1320.3 L1053.5 1322.0 L1054.5 1323.8 L1055.5 1325.5 L1056.4 1327.2 L1057.4 1329.0 L1058.4 1330.7 L1059.3 1332.5 L1060.3 1334.2 L1061.3 1336.0 L1062.2 1337.7 L1063.2 1339.5 L1064.1 1341.2 L1065.1 1343.0 L1066.0 1344.8 L1067.0 1346.5 L1067.9 1348.3 L1068.9 1350.1 L1069.8 1351.9 L1070.8 1353.6 L1071.7 1355.4 L1072.7 1357.2 L1073.6 1359.0 L1074.6 1360.7 L1075.5 1362.5 L1076.5 1364.3 L1077.4 1366.1 L1078.4 1367.9 L1079.3 1369.7 L1080.3 1371.4 L1081.3 1373.2 L1082.2 1375.0 L1083.2 1376.8 L1084.2 1378.5 L1085.1 1380.3 L1086.1 1382.1 L1087.1 1383.9 L1088.1 1385.6 L1089.0 1387.4 L1090.0 1389.2 L1091.0 1390.9 L1092.0 1392.7 L1093.0 1394.5 L1094.0 1396.2 L1095.0 1398.0 L1096.0 1399.7 L1097.0 1401.4 L1098.1 1403.2 L1099.1 1404.9 L1100.1 1406.7 L1101.1 1408.4 L1102.2 1410.1 L1103.2 1411.8 L1104.3 1413.5 L1105.3 1415.2 L1106.4 1416.9 L1107.5 1418.6 L1108.6 1420.3 L1109.6 1422.0 L1110.7 1423.7 L1111.8 1425.4 L1112.9 1427.0 L1114.1 1428.7 L1115.2 1430.4 L1116.3 1432.0 L1117.4 1433.6 L1118.6 1435.3 L1119.7 1436.9 L1120.9 1438.5 L1122.1 1440.1 L1123.2 1441.7 L1124.4 1443.3 L1125.6 1444.9 L1126.8 1446.5 L1128.0 1448.0 L1129.3 1449.6 L1130.5 1451.1 L1131.8 1452.7 L1133.0 1454.2 L1134.3 1455.7 L1135.6 1457.2 L1136.8 1458.7 L1138.1 1460.2 L1139.4 1461.7 L1140.8 1463.1 L1142.1 1464.6 L1143.4 1466.0 L1144.8 1467.5 L1146.2 1468.9 L1147.6 1470.2 L1149.1 1471.5 L1150.6 1472.7 L1152.2 1473.8 L1154.0 1474.7 L1155.8 1475.7 L1157.6 1476.6 L1159.5 1477.6 L1161.5 1478.5 L1163.5 1479.4 L1165.4 1480.1 L1167.4 1480.6 L1169.4 1480.9 L1171.3 1481.0 L1173.2 1480.9 L1175.1 1480.6 L1177.0 1480.2 L1178.8 1479.6 L1180.6 1478.9 L1182.4 1478.1 L1184.1 1477.2 L1185.9 1476.2 L1187.5 1475.1 L1189.2 1474.0 L1190.8 1472.8 L1192.4 1471.6 L1193.9 1470.4 L1195.4 1469.1 L1196.9 1467.7 L1198.3 1466.4 L1199.7 1465.0 L1201.0 1463.6 L1202.3 1462.1 L1203.6 1460.6 L1204.9 1459.1 L1206.1 1457.6 L1207.3 1456.0 L1208.5 1454.4 L1209.6 1452.8 L1210.7 1451.1 L1211.8 1449.5 L1212.9 1447.8 L1213.9 1446.1 L1214.9 1444.3 L1215.9 1442.6 L1216.9 1440.8 L1217.8 1439.0 L1218.7 1437.2 L1219.6 1435.4 L1220.5 1433.5 L1221.4 1431.7 L1222.2 1429.8 L1223.0 1427.9 L1223.9 1426.0 L1224.6 1424.1 L1225.4 1422.2 L1226.2 1420.3 L1226.9 1418.3 L1227.7 1416.4 L1228.4 1414.5 L1229.1 1412.5 L1229.8 1410.6 L1230.5 1408.6 L1231.2 1406.6 L1231.9 1404.7 L1232.6 1402.7 L1233.3 1400.8 L1233.9 1398.8 L1234.6 1396.9 L1235.3 1394.9 L1235.9 1393.0 L1236.6 1391.0 L1237.2 1389.1 L1237.8 1387.1 L1238.4 1385.2 L1239.1 1383.2 L1239.7 1381.3 L1240.3 1379.3 L1240.9 1377.4 L1241.5 1375.4 L1242.1 1373.5 L1242.7 1371.5 L1243.3 1369.6 L1243.8 1367.6 L1244.4 1365.7 L1245.0 1363.8 L1245.6 1361.8 L1246.1 1359.9 L1246.7 1357.9 L1247.2 1356.0 L1247.8 1354.0 L1248.3 1352.1 L1248.9 1350.2 L1249.4 1348.2 L1249.9 1346.3 L1250.5 1344.3 L1251.0 1342.4 L1251.5 1340.5 L1252.0 1338.5 L1252.5 1336.6 L1253.0 1334.7 L1253.5 1332.7 L1254.0 1330.8 L1254.5 1328.8 L1255.0 1326.9 L1255.5 1325.0 L1256.0 1323.0 L1256.5 1321.1 L1257.0 1319.2 L1257.4 1317.2 L1257.9 1315.3 L1258.4 1313.3 L1258.8 1311.4 L1259.3 1309.5 L1259.8 1307.5 L1260.2 1305.6 L1260.7 1303.7 L1261.1 1301.7 L1261.6 1299.8 L1262.0 1297.9 L1262.5 1295.9 L1262.9 1294.0 L1263.4 1292.0 L1263.8 1290.1 L1264.2 1288.2 L1264.7 1286.2 L1265.1 1284.3 L1265.6 1282.4 L1266.0 1280.4 L1266.4 1278.5 L1266.8 1276.5 L1267.3 1274.6 L1267.7 1272.7 L1268.1 1270.7 L1268.5 1268.8 L1268.9 1266.8 L1269.4 1264.9 L1269.8 1263.0 L1270.2 1261.0 L1270.6 1259.1 L1271.0 1257.1 L1271.4 1255.2 L1271.8 1253.3 L1272.2 1251.3 L1272.7 1249.4 L1273.1 1247.4 L1273.5 1245.5 L1273.9 1243.5 L1274.3 1241.6 L1274.7 1239.6 L1275.1 1237.7 L1275.5 1235.7 L1275.9 1233.8 L1276.3 1231.9 L1276.7 1229.9 L1277.1 1228.0 L1277.5 1226.0 L1277.9 1224.1 L1278.3 1222.1 L1278.7 1220.2 L1279.1 1218.2 L1279.5 1216.3 L1279.9 1214.3 L1280.3 1212.4 L1280.7 1210.4 L1281.0 1208.5 L1281.4 1206.5 L1281.8 1204.5 L1282.2 1202.6 L1282.6 1200.6 L1283.0 1198.7 L1283.4 1196.7 L1283.8 1194.8 L1284.1 1192.8 L1284.5 1190.9 L1284.9 1188.9 L1285.3 1187.0 L1285.7 1185.0 L1286.1 1183.0 L1286.4 1181.1 L1286.8 1179.1 L1287.2 1177.2 L1287.6 1175.2 L1288.0 1173.2 L1288.3 1171.3 L1288.7 1169.3 L1289.1 1167.4 L1289.5 1165.4 L1289.8 1163.4 L1290.2 1161.5 L1290.6 1159.5 L1291.0 1157.6 L1291.3 1155.6 L1291.7 1153.6 L1292.1 1151.7 L1292.4 1149.7 L1292.8 1147.7 L1293.2 1145.8 L1293.5 1143.8 L1293.9 1141.9 L1294.3 1139.9 L1294.6 1137.9 L1295.0 1136.0 L1295.4 1134.0 L1295.7 1132.0 L1296.1 1130.1 L1296.4 1128.1 L1296.8 1126.1 L1297.2 1124.2 L1297.5 1122.2 L1297.9 1120.2 L1298.2 1118.3 L1298.6 1116.3 L1299.0 1114.3 L1299.3 1112.4 L1299.7 1110.4 L1300.0 1108.4 L1300.4 1106.5 L1300.7 1104.5 L1301.1 1102.5 L1301.4 1100.5 L1301.8 1098.6 L1302.2 1096.6 L1302.5 1094.6 L1302.9 1092.7 L1303.2 1090.7 L1303.6 1088.7 L1303.9 1086.7 L1304.3 1084.8 L1304.6 1082.8 L1304.9 1080.8 L1305.3 1078.9 L1305.6 1076.9 L1306.0 1074.9 L1306.3 1072.9 L1306.7 1071.0 L1307.0 1069.0 L1307.4 1067.0 L1307.7 1065.0 L1308.0 1063.1 L1308.4 1061.1 L1308.7 1059.1 L1309.1 1057.1 L1309.4 1055.2 L1309.8 1053.2 L1310.1 1051.2 L1310.4 1049.2 L1310.8 1047.3 L1311.1 1045.3 L1311.4 1043.3 L1311.8 1041.3 L1312.1 1039.4 L1312.5 1037.4 L1312.8 1035.4 L1313.1 1033.4 L1313.5 1031.5 L1313.8 1029.5 L1314.1 1027.5 L1314.5 1025.5 L1314.8 1023.6 L1315.1 1021.6 L1315.5 1019.6 L1315.8 1017.6 L1316.1 1015.6 L1316.4 1013.7 L1316.8 1011.7 L1317.1 1009.7 L1317.4 1007.7 L1317.8 1005.8 L1318.1 1003.8 L1318.4 1001.8 L1318.7 999.8 L1319.1 997.8 L1319.4 995.9 L1319.7 993.9 L1320.1 991.9 L1320.4 989.9 L1320.7 987.9 L1321.0 986.0 L1321.4 984.0 L1321.7 982.0 L1322.0 980.0 L1322.3 978.0 L1322.6 976.1 L1323.0 974.1 L1323.3 972.1 L1323.6 970.1 L1323.9 968.1 L1324.3 966.2 L1324.6 964.2 L1324.9 962.2 L1325.2 960.2 L1325.5 958.2 L1325.9 956.3 L1326.2 954.3 L1326.5 952.3 L1326.8 950.3 L1327.1 948.3 L1327.4 946.4 L1327.8 944.4 L1328.1 942.4 L1328.4 940.4 L1328.7 938.4 L1329.0 936.5 L1329.4 934.5 L1329.7 932.5 L1330.0 930.5 L1330.3 928.5 L1330.6 926.6 L1330.9 924.6 L1331.2 922.6 L1331.6 920.6 L1331.9 918.6 L1332.2 916.7 L1332.5 914.7 L1332.8 912.7 L1333.1 910.7 L1333.4 908.7 L1333.7 906.7 L1334.1 904.8 L1334.4 902.8 L1334.7 900.8 L1335.0 898.8 L1335.3 896.8 L1335.6 894.9 L1335.9 892.9 L1336.2 890.9 L1336.6 888.9 L1336.9 886.9 L1337.2 885.0 L1337.5 883.0 L1337.8 881.0 L1338.1 879.0 L1338.4 877.0 L1338.7 875.1 L1339.0 873.1 L1339.3 871.1 L1339.6 869.1 L1340.0 867.1 L1340.3 865.2 L1340.6 863.2 L1340.9 861.2 L1341.2 859.2 L1341.5 857.2 L1341.8 855.3 L1342.1 853.3 L1342.4 851.3 L1342.7 849.3 L1343.0 847.3 L1343.3 845.4 L1343.7 843.4 L1344.0 841.4 L1344.3 839.4 L1344.6 837.4 L1344.9 835.5 L1345.2 833.5 L1345.5 831.5 L1345.8 829.5 L1346.1 827.6 L1346.4 825.6 L1346.7 823.6 L1347.0 821.6 L1347.3 819.6 L1347.7 817.7 L1348.0 815.7 L1348.3 813.7 L1348.6 811.7 L1348.9 809.8 L1349.2 807.8 L1349.5 805.8 L1349.8 803.8 L1350.1 801.8 L1350.4 799.9 L1350.7 797.9 L1351.1 795.9 L1351.4 793.9 L1351.7 792.0 L1352.0 790.0 L1352.3 788.0 L1352.6 786.0 L1352.9 784.1 L1353.2 782.1 L1353.5 780.1 L1353.8 778.1 L1354.2 776.2 L1354.5 774.2 L1354.8 772.2 L1355.1 770.2 L1355.4 768.2 L1355.7 766.3 L1356.0 764.3 L1356.3 762.3 L1356.7 760.3 L1357.0 758.4 L1357.3 756.4 L1357.6 754.4 L1357.9 752.4 L1358.2 750.5 L1358.6 748.5 L1358.9 746.5 L1359.2 744.6 L1359.5 742.6 L1359.8 740.6 L1360.1 738.6 L1360.5 736.7 L1360.8 734.7 L1361.1 732.7 L1361.4 730.7 L1361.7 728.8 L1362.1 726.8 L1362.4 724.8 L1362.7 722.8 L1363.0 720.9 L1363.4 718.9 L1363.7 716.9 L1364.0 715.0 L1364.3 713.0 L1364.7 711.0 L1365.0 709.0 L1365.3 707.1 L1365.6 705.1 L1366.0 703.1 L1366.3 701.2 L1366.6 699.2 L1366.9 697.2 L1367.3 695.2 L1367.6 693.3 L1367.9 691.3 L1368.3 689.3 L1368.6 687.4 L1368.9 685.4 L1369.3 683.4 L1369.6 681.4 L1369.9 679.5 L1370.3 677.5 L1370.6 675.5 L1371.0 673.6 L1371.3 671.6 L1371.6 669.6 L1372.0 667.7 L1372.3 665.7 L1372.7 663.7 L1373.0 661.8 L1373.3 659.8 L1373.7 657.8 L1374.0 655.9 L1374.4 653.9 L1374.7 651.9 L1375.1 649.9 L1375.4 648.0 L1375.8 646.0 L1376.1 644.0 L1376.5 642.1 L1376.8 640.1 L1377.2 638.1 L1377.5 636.2 L1377.9 634.2 L1378.2 632.3 L1378.6 630.3 L1378.9 628.3 L1379.3 626.4 L1379.6 624.4 L1380.0 622.4 L1380.4 620.5 L1380.7 618.5 L1381.1 616.5 L1381.5 614.6 L1381.8 612.6 L1382.2 610.6 L1382.6 608.7 L1382.9 606.7 L1383.3 604.7 L1383.7 602.8 L1384.0 600.8 L1384.4 598.9 L1384.8 596.9 L1385.1 594.9 L1385.5 593.0 L1385.9 591.0 L1386.3 589.0 L1386.6 587.1 L1387.0 585.1 L1387.4 583.2 L1387.8 581.2 L1388.2 579.2 L1388.5 577.3 L1388.9 575.3 L1389.3 573.4 L1389.7 571.4 L1390.1 569.4 L1390.5 567.5 L1390.9 565.5 L1391.3 563.6 L1391.7 561.6 L1392.1 559.6 L1392.4 557.7 L1392.8 555.7 L1393.2 553.8 L1393.6 551.8 L1394.0 549.9 L1394.4 547.9 L1394.8 545.9 L1395.2 544.0 L1395.7 542.0 L1396.1 540.1 L1396.5 538.1 L1396.9 536.2 L1397.3 534.2 L1397.7 532.2 L1398.1 530.3 L1398.5 528.3 L1398.9 526.4 L1399.4 524.4 L1399.8 522.5 L1400.2 520.5 L1400.6 518.6 L1401.0 516.6 L1401.5 514.6 L1401.9 512.7 L1402.3 510.7 L1402.7 508.8 L1403.2 506.8 L1403.6 504.9 L1404.0 502.9 L1404.5 501.0 L1404.9 499.0 L1405.3 497.1 L1405.8 495.1 L1406.2 493.2 L1406.7 491.2 L1407.1 489.3 L1407.5 487.3 L1408.0 485.4 L1408.4 483.4 L1408.9 481.5 L1409.3 479.5 L1409.8 477.5 L1410.2 475.6 L1410.7 473.6 L1411.2 471.7 L1411.6 469.7 L1412.1 467.8 L1412.5 465.8 L1413.0 463.9 L1413.5 461.9 L1413.9 460.0 L1414.4 458.0 L1414.9 456.1 L1415.3 454.1 L1415.8 452.2 L1416.3 450.2 L1416.8 448.3 L1417.2 446.3 L1417.7 444.4 L1418.2 442.4 L1418.7 440.5 L1419.2 438.5 L1419.6 436.6 L1420.1 434.7 L1420.6 432.7 L1421.1 430.8 L1421.6 428.8 L1422.1 426.9 L1422.6 424.9 L1423.1 423.0 L1423.6 421.0 L1424.1 419.1 L1424.6 417.1 L1425.1 415.2 L1425.6 413.2 L1426.1 411.3 L1426.6 409.3 L1427.1 407.4 L1427.6 405.4 L1428.1 403.5 L1428.7 401.5 L1429.2 399.6 L1429.7 397.6 L1430.2 395.7 L1430.7 393.7 L1431.3 391.8 L1431.8 389.9 L1432.4 387.9 L1432.9 386.0 L1433.5 384.0 L1434.0 382.1 L1434.6 380.2 L1435.2 378.3 L1435.8 376.4 L1436.5 374.5 L1437.1 372.6 L1437.8 370.7 L1438.4 368.8 L1439.1 366.9 L1439.8 365.1 L1440.6 363.2 L1441.3 361.4 L1442.1 359.5 L1442.9 357.7 L1443.7 355.9 L1444.6 354.1 L1445.5 352.3 L1446.4 350.6 L1447.3 348.8 L1448.3 347.1 L1449.3 345.4 L1450.3 343.7 L1451.4 342.0 L1452.5 340.3 L1453.6 338.6 L1454.8 337.0 L1456.0 335.4 L1457.3 333.8 L1458.6 332.3 L1460.1 331.0 L1461.7 329.9 L1463.4 329.0 L1465.3 328.3 L1467.3 328.0 L1469.3 327.9 L1471.4 328.0 L1473.4 328.4 L1475.3 329.0 L1477.2 329.8 L1479.0 330.8 L1480.7 332.0 L1482.3 333.3 L1483.9 334.6 L1485.4 336.0 L1486.8 337.5 L1488.2 339.0 L1489.5 340.6 L1490.7 342.1 L1491.9 343.7 L1493.0 345.4 L1494.1 347.0 L1495.1 348.7 L1496.1 350.5 L1497.0 352.2 L1497.9 354.0 L1498.7 355.7 L1499.6 357.6 L1500.3 359.4 L1501.1 361.2 L1501.8 363.1 L1502.5 364.9 L1503.2 366.8 L1503.8 368.7 L1504.4 370.6 L1505.0 372.5 L1505.6 374.5 L1506.2 376.4 L1506.8 378.3 L1507.3 380.2 L1507.9 382.2 L1508.5 384.1 L1509.0 386.0 L1509.6 388.0 L1510.1 389.9 L1510.7 391.8 L1511.2 393.8 L1511.7 395.7 L1512.3 397.6 L1512.8 399.6 L1513.3 401.5 L1513.9 403.5 L1514.4 405.4 L1514.9 407.3 L1515.4 409.3 L1515.9 411.2 L1516.5 413.2 L1517.0 415.1 L1517.5 417.0 L1518.0 419.0 L1518.5 420.9 L1519.0 422.9 L1519.4 424.8 L1519.9 426.8 L1520.4 428.7 L1520.9 430.7 L1521.4 432.6 L1521.9 434.5 L1522.3 436.5 L1522.8 438.4 L1523.3 440.4 L1523.7 442.3 L1524.2 444.3 L1524.7 446.2 L1525.1 448.2 L1525.6 450.1 L1526.0 452.1 L1526.5 454.0 L1526.9 456.0 L1527.4 457.9 L1527.8 459.9 L1528.2 461.9 L1528.7 463.8 L1529.1 465.8 L1529.5 467.7 L1530.0 469.7 L1530.4 471.6 L1530.8 473.6 L1531.2 475.5 L1531.7 477.5 L1532.1 479.5 L1532.5 481.4 L1532.9 483.4 L1533.3 485.3 L1533.7 487.3 L1534.1 489.3 L1534.5 491.2 L1534.9 493.2 L1535.3 495.1 L1535.7 497.1 L1536.1 499.1 L1536.5 501.0 L1536.9 503.0 L1537.3 504.9 L1537.7 506.9 L1538.1 508.9 L1538.4 510.8 L1538.8 512.8 L1539.2 514.8 L1539.6 516.7 L1540.0 518.7 L1540.3 520.7 L1540.7 522.6 L1541.1 524.6 L1541.4 526.6 L1541.8 528.5 L1542.2 530.5 L1542.5 532.5 L1542.9 534.4 L1543.2 536.4 L1543.6 538.4 L1544.0 540.3 L1544.3 542.3 L1544.7 544.3 L1545.0 546.2 L1545.4 548.2 L1545.7 550.2 L1546.0 552.1 L1546.4 554.1 L1546.7 556.1 L1547.1 558.1 L1547.4 560.0 L1547.8 562.0 L1548.1 564.0 L1548.4 566.0 L1548.8 567.9 L1549.1 569.9 L1549.4 571.9 L1549.8 573.8 L1550.1 575.8 L1550.4 577.8 L1550.7 579.8 L1551.1 581.7 L1551.4 583.7 L1551.7 585.7 L1552.0 587.7 L1552.4 589.6 L1552.7 591.6 L1553.0 593.6 L1553.3 595.6 L1553.6 597.5 L1553.9 599.5 L1554.3 601.5 L1554.6 603.5 L1554.9 605.4 L1555.2 607.4 L1555.5 609.4 L1555.8 611.4 L1556.1 613.3 L1556.4 615.3 L1556.7 617.3 L1557.1 619.3 L1557.4 621.3 L1557.7 623.2 L1558.0 625.2 L1558.3 627.2 L1558.6 629.2 L1558.9 631.1 L1559.2 633.1 L1559.5 635.1 L1559.8 637.1 L1560.1 639.1 L1560.4 641.0 L1560.7 643.0 L1561.0 645.0 L1561.3 647.0 L1561.6 648.9 L1561.9 650.9 L1562.2 652.9 L1562.5 654.9 L1562.8 656.9 L1563.0 658.8 L1563.3 660.8 L1563.6 662.8 L1563.9 664.8 L1564.2 666.8 L1564.5 668.7 L1564.8 670.7 L1565.1 672.7 L1565.4 674.7 L1565.7 676.7 L1566.0 678.6 L1566.2 680.6 L1566.5 682.6 L1566.8 684.6 L1567.1 686.6 L1567.4 688.5 L1567.7 690.5 L1567.9 692.5 L1568.2 694.5 L1568.5 696.5 L1568.8 698.5 L1569.1 700.4 L1569.3 702.4 L1569.6 704.4 L1569.9 706.4 L1570.2 708.4 L1570.5 710.3 L1570.7 712.3 L1571.0 714.3 L1571.3 716.3 L1571.6 718.3 L1571.8 720.3 L1572.1 722.2 L1572.4 724.2 L1572.7 726.2 L1572.9 728.2 L1573.2 730.2 L1573.5 732.2 L1573.8 734.1 L1574.0 736.1 L1574.3 738.1 L1574.6 740.1 L1574.8 742.1 L1575.1 744.1 L1575.4 746.0 L1575.6 748.0 L1575.9 750.0 L1576.2 752.0 L1576.4 754.0 L1576.7 756.0 L1577.0 757.9 L1577.2 759.9 L1577.5 761.9 L1577.8 763.9 L1578.0 765.9 L1578.3 767.9 L1578.5 769.9 L1578.8 771.8 L1579.1 773.8 L1579.3 775.8 L1579.6 777.8 L1579.9 779.8 L1580.1 781.8 L1580.4 783.7 L1580.6 785.7 L1580.9 787.7 L1581.1 789.7 L1581.4 791.7 L1581.7 793.7 L1581.9 795.7 L1582.2 797.6 L1582.4 799.6 L1582.7 801.6 L1582.9 803.6 L1583.2 805.6 L1583.4 807.6 L1583.7 809.6 L1584.0 811.5 L1584.2 813.5 L1584.5 815.5 L1584.7 817.5 L1585.0 819.5 L1585.2 821.5 L1585.5 823.5 L1585.7 825.4 L1586.0 827.4 L1586.2 829.4 L1586.5 831.4 L1586.7 833.4 L1587.0 835.4 L1587.2 837.4 L1587.5 839.3 L1587.7 841.3 L1587.9 843.3 L1588.2 845.3 L1588.4 847.3 L1588.7 849.3 L1588.9 851.3 L1589.2 853.3 L1589.4 855.2 L1589.7 857.2 L1589.9 859.2 L1590.2 861.2 L1590.4 863.2 L1590.6 865.2 L1590.9 867.2 L1591.1 869.2 L1591.4 871.1 L1591.6 873.1 L1591.9 875.1 L1592.1 877.1 L1592.3 879.1 L1592.6 881.1 L1592.8 883.1 L1593.1 885.1 L1593.3 887.0 L1593.5 889.0 L1593.8 891.0 L1594.0 893.0 L1594.3 895.0 L1594.5 897.0 L1594.7 899.0 L1595.0 901.0 L1595.2 902.9 L1595.5 904.9 L1595.7 906.9 L1595.9 908.9 L1596.2 910.9 L1596.4 912.9 L1596.6 914.9 L1596.9 916.9 L1597.1 918.8 L1597.4 920.8 L1597.6 922.8 L1597.8 924.8 L1598.1 926.8 L1598.3 928.8 L1598.5 930.8 L1598.8 932.8 L1599.0 934.7 L1599.2 936.7 L1599.5 938.7 L1599.7 940.7 L1599.9 942.7 L1600.2 944.7 L1600.4 946.7 L1600.6 948.7 L1600.9 950.7 L1601.1 952.6 L1601.3 954.6 L1601.6 956.6 L1601.8 958.6 L1602.0 960.6 L1602.3 962.6 L1602.5 964.6 L1602.7 966.6 L1603.0 968.5 L1603.2 970.5 L1603.4 972.5 L1603.6 974.5 L1603.9 976.5 L1604.1 978.5 L1604.3 980.5 L1604.6 982.5 L1604.8 984.4 L1605.0 986.4 L1605.3 988.4 L1605.5 990.4 L1605.7 992.4 L1605.9 994.4 L1606.2 996.4 L1606.4 998.4 L1606.6 1000.4 L1606.9 1002.3 L1607.1 1004.3 L1607.3 1006.3 L1607.5 1008.3 L1607.8 1010.3 L1608.0 1012.3 L1608.2 1014.3 L1608.5 1016.3 L1608.7 1018.3 L1608.9 1020.2 L1609.1 1022.2 L1609.4 1024.2 L1609.6 1026.2 L1609.8 1028.2 L1610.0 1030.2 L1610.3 1032.2 L1610.5 1034.2 L1610.7 1036.1 L1610.9 1038.1 L1611.2 1040.1 L1611.4 1042.1 L1611.6 1044.1 L1611.8 1046.1 L1612.1 1048.1 L1612.3 1050.1 L1612.5 1052.1 L1612.7 1054.0 L1613.0 1056.0 L1613.2 1058.0 L1613.4 1060.0 L1613.6 1062.0 L1613.9 1064.0 L1614.1 1066.0 L1614.3 1068.0 L1614.5 1070.0 L1614.8 1071.9 L1615.0 1073.9 L1615.2 1075.9 L1615.4 1077.9 L1615.7 1079.9 L1615.9 1081.9 L1616.1 1083.9 L1616.3 1085.9 L1616.5 1087.9 L1616.8 1089.8 L1617.0 1091.8 L1617.2 1093.8 L1617.4 1095.8 L1617.7 1097.8 L1617.9 1099.8 L1618.1 1101.8 L1618.3 1103.8 L1618.5 1105.8 L1618.8 1107.7 L1619.0 1109.7 L1619.2 1111.7 L1619.4 1113.7 L1619.7 1115.7 L1619.9 1117.7 L1620.1 1119.7 L1620.3 1121.7 L1620.5 1123.7 L1620.8 1125.6 L1621.0 1127.6 L1621.2 1129.6 L1621.4 1131.6 L1621.6 1133.6 L1621.9 1135.6 L1622.1 1137.6 L1622.3 1139.6 L1622.5 1141.6 L1622.7 1143.5 L1623.0 1145.5 L1623.2 1147.5 L1623.4 1149.5 L1623.6 1151.5 L1623.8 1153.5 L1624.1 1155.5 L1624.3 1157.5 L1624.5 1159.5 L1624.7 1161.4 L1624.9 1163.4 L1625.2 1165.4 L1625.4 1167.4 L1625.6 1169.4 L1625.8 1171.4 L1626.0 1173.4 L1626.3 1175.4 L1626.5 1177.4 L1626.7 1179.4 L1626.9 1181.3 L1627.1 1183.3 L1627.4 1185.3 L1627.6 1187.3 L1627.8 1189.3 L1628.0 1191.3 L1628.2 1193.3 L1628.4 1195.3 L1628.7 1197.3 L1628.9 1199.2 L1629.1 1201.2 L1629.3 1203.2 L1629.5 1205.2 L1629.8 1207.2 L1630.0 1209.2 L1630.2 1211.2 L1630.4 1213.2 L1630.6 1215.2 L1630.8 1217.1 L1631.1 1219.1 L1631.3 1221.1 L1631.5 1223.1 L1631.7 1225.1 L1631.9 1227.1 L1632.2 1229.1 L1632.4 1231.1 L1632.6 1233.1 L1632.8 1235.1 L1633.0 1237.0 L1633.3 1239.0 L1633.5 1241.0 L1633.7 1243.0 L1633.9 1245.0 L1634.1 1247.0 L1634.3 1249.0 L1634.6 1251.0 L1634.8 1253.0 L1635.0 1254.9 L1635.2 1256.9 L1635.4 1258.9 L1635.7 1260.9 L1635.9 1262.9 L1636.1 1264.9 L1636.3 1266.9 L1636.5 1268.9 L1636.7 1270.9 L1637.0 1272.8 L1637.2 1274.8 L1637.4 1276.8 L1637.6 1278.8 L1637.8 1280.8 L1638.1 1282.8 L1638.3 1284.8 L1638.5 1286.8 L1638.7 1288.8 L1638.9 1290.8 L1639.1 1292.7 L1639.4 1294.7 L1639.6 1296.7 L1639.8 1298.7 L1640.0 1300.7 L1640.2 1302.7 L1640.5 1304.7 L1640.7 1306.7 L1640.9 1308.7 L1641.1 1310.6 L1641.3 1312.6 L1641.6 1314.6 L1641.8 1316.6 L1642.0 1318.6 L1642.2 1320.6 L1642.4 1322.6 L1642.6 1324.6 L1642.9 1326.6 L1643.1 1328.5 L1643.3 1330.5 L1643.5 1332.5 L1643.7 1334.5 L1644.0 1336.5 L1644.2 1338.5 L1644.4 1340.5 L1644.6 1342.5 L1644.8 1344.5 L1645.1 1346.5 L1645.3 1348.4 L1645.5 1350.4 L1645.7 1352.4 L1645.9 1354.4 L1646.2 1356.4 L1646.4 1358.4 L1646.6 1360.4 L1646.8 1362.4 L1647.0 1364.4 L1647.3 1366.3 L1647.5 1368.3 L1647.7 1370.3 L1647.9 1372.3 L1648.1 1374.3 L1648.4 1376.3 L1648.6 1378.3 L1648.8 1380.3 L1649.0 1382.3 L1649.3 1384.2 L1649.5 1386.2 L1649.7 1388.2 L1649.9 1390.2 L1650.1 1392.2 L1650.4 1394.2 L1650.6 1396.2 L1650.8 1398.2 L1651.0 1400.2 L1651.2 1402.2 L1651.5 1404.1 L1651.7 1406.1 L1651.9 1408.1 L1652.1 1410.1 L1652.4 1412.1 L1652.6 1414.1 L1652.8 1416.1 L1653.0 1418.1 L1653.3 1420.1 L1653.5 1422.0 L1653.7 1424.0 L1653.9 1426.0 L1654.1 1428.0 L1654.4 1430.0 L1654.6 1432.0 L1654.8 1434.0 L1655.0 1436.0 L1655.3 1438.0 L1655.5 1439.9 L1655.7 1441.9 L1655.9 1443.9 L1656.2 1445.9 L1656.4 1447.9 L1656.6 1449.9 L1656.8 1451.9 L1657.1 1453.9 L1657.3 1455.9 L1657.5 1457.9 L1657.7 1459.8 L1658.0 1461.8 L1658.2 1463.8 L1658.4 1465.8 L1658.6 1467.8 L1658.9 1469.8 L1659.1 1471.8 L1659.3 1473.8 L1659.5 1475.8 L1659.8 1477.7 L1660.0 1479.7 L1660.2 1481.7 L1660.5 1483.7 L1660.6 1485.7 L1662.5 1496.7 L1669.4 1515.0 L1676.0 1537.0 L1990.0 1537.0 1990.0 1537.0 L1992.2 1537.0 L1994.1 1536.9 L1996.0 1536.4 L1998.0 1535.9 L1999.9 1535.4 L2001.8 1534.9 L2003.8 1534.4 L2005.7 1533.8 L2007.7 1533.3 L2009.6 1532.7 L2011.5 1532.2 L2013.5 1531.6 L2015.4 1531.0 L2017.4 1530.4 L2019.3 1529.9 L2021.3 1529.3 L2023.2 1528.7 L2025.1 1528.1 L2027.1 1527.5 L2029.0 1526.9 L2031.0 1526.3 L2033.0 1525.7 L2034.9 1525.1 L2036.9 1524.5 L2038.8 1524.0 L2040.8 1523.4 L2042.7 1522.8 L2044.7 1522.3 L2046.7 1521.7 L2048.6 1521.2 L2050.6 1520.7 L2052.6 1520.1 L2054.5 1519.6 L2056.5 1519.1 L2058.5 1518.7 L2060.5 1518.2 L2062.4 1517.8 L2064.4 1517.3 L2066.4 1516.9 L2068.4 1516.5 L2070.4 1516.1 L2072.4 1515.8 L2074.4 1515.5 L2076.4 1515.2 L2078.3 1514.9 L2080.3 1514.6 L2082.3 1514.4 L2084.3 1514.1 L2086.3 1514.0 L2088.3 1513.8 L2090.3 1513.6 L2092.4 1513.5 L2094.4 1513.4 L2096.4 1513.3 L2098.4 1513.3 L2100.4 1513.3 L2102.4 1513.2 L2104.4 1513.3 L2106.4 1513.3 L2108.4 1513.4 L2110.4 1513.4 L2112.4 1513.5 L2114.4 1513.7 L2116.5 1513.8 L2118.5 1514.0 L2120.5 1514.2 L2122.5 1514.4 L2124.5 1514.7 L2126.5 1514.9 L2128.5 1515.2 L2130.5 1515.5 L2132.5 1515.8 L2134.5 1516.2 L2136.5 1516.6 L2138.5 1517.0 L2140.5 1517.4 L2142.5 1517.8 L2144.4 1518.3 L2146.4 1518.8 L2148.4 1519.3 L2150.4 1519.8 L2152.4 1520.4 L2154.3 1520.9 L2156.3 1521.5 L2158.3 1522.2 L2160.2 1522.8 L2162.2 1523.4 L2164.1 1524.1 L2166.1 1524.8 L2168.0 1525.6 L2170.0 1526.3" stroke="#00ff00"/>
<path d="M298.0 1537.0 L440.0 1537.0 L442.0 1537.0 L444.0 1536.8 L445.9 1536.7 L447.9 1536.5 L449.8 1536.4 L451.8 1536.2 L453.8 1536.1 L455.8 1536.0 L457.7 1535.9 L459.7 1535.8 L461.7 1535.7 L463.7 1535.6 L465.7 1535.5 L467.7 1535.4 L469.7 1535.3 L471.7 1535.2 L473.8 1535.1 L475.8 1535.1 L477.8 1535.0 L479.8 1534.9 L481.8 1534.8 L483.8 1534.7 L485.8 1534.6 L487.9 1534.5 L489.9 1534.4 L491.9 1534.3 L493.9 1534.2 L495.9 1534.0 L498.0 1533.9 L500.0 1533.8 L502.0 1533.6 L504.0 1533.5 L506.0 1533.3 L508.0 1533.1 L510.0 1532.9 L512.1 1532.7 L514.1 1532.5 L516.1 1532.3 L518.1 1532.0 L520.0 1531.7 L522.0 1531.5 L524.0 1531.2 L526.0 1530.9 L528.0 1530.5 L530.0 1530.2 L531.9 1529.8 L533.9 1529.4 L535.8 1529.0 L537.8 1528.5 L539.7 1528.1 L541.7 1527.6 L543.6 1527.1 L545.5 1526.6 L547.5 1526.0 L549.4 1525.4 L551.3 1524.8 L553.2 1524.2 L555.1 1523.6 L557.0 1522.9 L558.8 1522.2 L560.7 1521.5 L562.6 1520.8 L564.4 1520.0 L566.3 1519.3 L568.1 1518.5 L570.0 1517.7 L571.8 1516.9 L573.6 1516.0 L575.4 1515.2 L577.2 1514.3 L579.0 1513.4 L580.8 1512.5 L582.6 1511.6 L584.4 1510.6 L586.2 1509.7 L587.9 1508.7 L589.7 1507.7 L591.4 1506.7 L593.2 1505.7 L594.9 1504.7 L596.6 1503.6 L598.3 1502.6 L600.0 1501.5 L601.7 1500.4 L603.4 1499.4 L605.1 1498.3 L606.8 1497.1 L608.5 1496.0 L610.1 1494.9 L611.8 1493.7 L613.4 1492.6 L615.0 1491.4 L616.6 1490.2 L618.3 1489.1 L619.9 1487.9 L621.5 1486.7 L623.1 1485.5 L624.6 1484.3 L626.2 1483.0 L627.8 1481.8 L629.3 1480.6 L630.9 1479.3 L632.4 1478.0 L633.9 1476.8 L635.5 1475.5 L637.0 1474.2 L638.5 1472.9 L640.0 1471.6 L641.5 1470.3 L643.0 1469.0 L644.4 1467.7 L645.9 1466.4 L647.4 1465.0 L648.8 1463.7 L650.3 1462.3 L651.7 1461.0 L653.2 1459.6 L654.6 1458.2 L656.0 1456.9 L657.4 1455.5 L658.8 1454.1 L660.2 1452.7 L661.6 1451.3 L663.0 1449.9 L664.4 1448.4 L665.8 1447.0 L667.2 1445.6 L668.5 1444.2 L669.9 1442.7 L671.3 1441.3 L672.6 1439.8 L673.9 1438.3 L675.3 1436.9 L676.6 1435.4 L677.9 1433.9 L679.3 1432.4 L680.6 1431.0 L681.9 1429.5 L683.2 1428.0 L684.5 1426.5 L685.8 1424.9 L687.1 1423.4 L688.4 1421.9 L689.6 1420.4 L690.9 1418.9 L692.2 1417.3 L693.5 1415.8 L694.7 1414.2 L696.0 1412.7 L697.2 1411.1 L698.5 1409.6 L699.7 1408.0 L701.0 1406.5 L702.2 1404.9 L703.5 1403.3 L704.7 1401.8 L705.9 1400.2 L707.1 1398.6 L708.4 1397.0 L709.6 1395.4 L710.8 1393.8 L712.0 1392.2 L713.2 1390.6 L714.4 1389.0 L715.6 1387.4 L716.8 1385.8 L718.0 1384.2 L719.2 1382.6 L720.4 1381.0 L721.6 1379.3 L722.7 1377.7 L723.9 1376.1 L725.1 1374.5 L726.3 1372.8 L727.5 1371.2 L728.6 1369.6 L729.8 1367.9 L731.0 1366.3 L732.1 1364.6 L733.3 1363.0 L734.5 1361.4 L735.6 1359.7 L736.8 1358.1 L737.9 1356.4 L739.1 1354.8 L740.2 1353.1 L741.4 1351.5 L742.6 1349.8 L743.7 1348.1 L744.9 1346.5 L746.0 1344.8 L747.1 1343.2 L748.3 1341.5 L749.4 1339.9 L750.6 1338.2 L751.7 1336.5 L752.9 1334.9 L754.0 1333.2 L755.2 1331.5 L756.3 1329.9 L757.4 1328.2 L758.6 1326.6 L759.7 1324.9 L760.9 1323.2 L762.0 1321.6 L763.2 1319.9 L764.3 1318.2 L765.4 1316.6 L766.6 1314.9 L767.7 1313.3 L768.9 1311.6 L770.0 1309.9 L771.2 1308.3 L772.3 1306.6 L773.5 1305.0 L774.6 1303.3 L775.8 1301.7 L776.9 1300.0 L778.1 1298.4 L779.2 1296.7 L780.4 1295.1 L781.5 1293.4 L782.7 1291.8 L783.8 1290.1 L785.0 1288.5 L786.2 1286.8 L787.3 1285.2 L788.5 1283.6 L789.7 1281.9 L790.8 1280.3 L792.0 1278.7 L793.2 1277.0 L794.4 1275.4 L795.5 1273.8 L796.7 1272.2 L797.9 1270.6 L799.1 1269.0 L800.3 1267.3 L801.5 1265.7 L802.7 1264.1 L803.9 1262.5 L805.1 1260.9 L806.3 1259.3 L807.5 1257.8 L808.7 1256.2 L809.9 1254.6 L811.1 1253.0 L812.3 1251.4 L813.6 1249.9 L814.8 1248.3 L816.0 1246.7 L817.3 1245.2 L818.5 1243.6 L819.8 1242.1 L821.0 1240.5 L822.3 1239.0 L823.6 1237.5 L824.8 1235.9 L826.1 1234.4 L827.4 1232.9 L828.7 1231.4 L830.0 1229.9 L831.3 1228.4 L832.6 1226.9 L833.9 1225.4 L835.2 1223.9 L836.5 1222.5 L837.9 1221.0 L839.2 1219.6 L840.5 1218.1 L841.9 1216.7 L843.3 1215.2 L844.6 1213.8 L846.0 1212.4 L847.4 1211.0 L848.8 1209.6 L850.2 1208.2 L851.6 1206.8 L853.0 1205.4 L854.4 1204.0 L855.9 1202.7 L857.3 1201.3 L858.8 1200.0 L860.2 1198.6 L861.7 1197.3 L863.2 1196.0 L864.7 1194.7 L866.2 1193.4 L867.7 1192.1 L869.2 1190.8 L870.8 1189.5 L872.3 1188.3 L873.9 1187.0 L875.4 1185.8 L877.0 1184.6 L878.6 1183.4 L880.2 1182.2 L881.8 1181.0 L883.4 1179.9 L885.0 1178.7 L886.7 1177.6 L888.3 1176.5 L890.0 1175.4 L891.7 1174.4 L893.4 1173.3 L895.1 1172.3 L896.8 1171.3 L898.6 1170.4 L900.3 1169.4 L902.1 1168.5 L903.9 1167.6 L905.6 1166.7 L907.5 1165.9 L909.3 1165.1 L911.1 1164.3 L913.0 1163.6 L914.8 1162.9 L916.7 1162.2 L918.6 1161.7 L920.5 1161.2 L922.5 1160.7 L924.4 1160.4 L926.4 1160.2 L928.4 1160.1 L930.3 1160.0 L932.3 1160.0 L934.3 1160.2 L936.3 1160.3 L938.3 1160.6 L940.3 1160.9 L942.3 1161.3 L944.3 1161.7 L946.2 1162.2 L948.2 1162.8 L950.1 1163.4 L952.0 1164.0 L953.9 1164.7 L955.8 1165.4 L957.6 1166.2 L959.5 1167.0 L961.3 1167.9 L963.1 1168.7 L964.8 1169.7 L966.6 1170.6 L968.4 1171.6 L970.1 1172.7 L971.8 1173.7 L973.5 1174.8 L975.1 1175.9 L976.8 1177.1 L978.4 1178.3 L980.0 1179.5 L981.6 1180.7 L983.2 1181.9 L984.8 1183.2 L986.3 1184.5 L987.8 1185.8 L989.4 1187.1 L990.8 1188.4 L992.3 1189.7 L993.8 1191.1 L995.2 1192.5 L996.6 1193.9 L998.0 1195.3 L999.4 1196.7 L1000.8 1198.1 L1002.2 1199.5 L1003.5 1201.0 L1004.8 1202.4 L1006.2 1203.9 L1007.5 1205.4 L1008.8 1206.9 L1010.0 1208.4 L1011.3 1209.9 L1012.5 1211.5 L1013.8 1213.0 L1015.0 1214.6 L1016.2 1216.1 L1017.4 1217.7 L1018.6 1219.3 L1019.7 1220.9 L1020.9 1222.5 L1022.0 1224.1 L1023.2 1225.8 L1024.3 1227.4 L1025.4 1229.0 L1026.5 1230.7 L1027.6 1232.3 L1028.7 1234.0 L1029.7 1235.7 L1030.8 1237.4 L1031.9 1239.1 L1032.9 1240.8 L1033.9 1242.5 L1035.0 1244.2 L1036.0 1245.9 L1037.0 1247.6 L1038.0 1249.4 L1039.0 1251.1 L1040.0 1252.8 L1041.0 1254.6 L1042.0 1256.3 L1042.9 1258.1 L1043.9 1259.9 L1044.9 1261.6 L1045.8 1263.4 L1046.8 1265.2 L1047.7 1267.0 L1048.6 1268.7 L1049.6 1270.5 L1050.5 1272.3 L1051.4 1274.1 L1052.4 1275.9 L1053.3 1277.7 L1054.2 1279.5 L1055.1 1281.3 L1056.0 1283.1 L1056.9 1284.9 L1057.8 1286.8 L1058.7 1288.6 L1059.6 1290.4 L1060.5 1292.2 L1061.4 1294.0 L1062.3 1295.8 L1063.2 1297.6 L1064.1 1299.5 L1065.0 1301.3 L1065.9 1303.1 L1066.8 1304.9 L1067.7 1306.7 L1068.6 1308.5 L1069.5 1310.3 L1070.4 1312.1 L1071.3 1314.0 L1072.2 1315.8 L1073.1 1317.6 L1074.0 1319.4 L1074.9 1321.2 L1075.8 1323.0 L1076.7 1324.8 L1077.7 1326.5 L1078.6 1328.3 L1079.5 1330.1 L1080.4 1331.9 L1081.4 1333.7 L1082.3 1335.5 L1083.2 1337.2 L1084.1 1339.0 L1085.1 1340.8 L1086.0 1342.6 L1086.9 1344.3 L1087.9 1346.1 L1088.8 1347.9 L1089.8 1349.6 L1090.7 1351.4 L1091.6 1353.2 L1092.6 1354.9 L1093.5 1356.7 L1094.5 1358.4 L1095.4 1360.2 L1096.3 1361.9 L1097.3 1363.7 L1098.2 1365.4 L1099.2 1367.2 L1100.1 1368.9 L1101.1 1370.7 L1102.0 1372.4 L1102.9 1374.2 L1103.9 1375.9 L1104.8 1377.6 L1105.8 1379.4 L1106.7 1381.1 L1107.6 1382.9 L1108.6 1384.6 L1109.5 1386.3 L1110.5 1388.1 L1111.4 1389.8 L1112.3 1391.5 L1113.3 1393.3 L1114.2 1395.0 L1115.1 1396.7 L1116.1 1398.5 L1117.0 1400.2 L1117.9 1401.9 L1118.9 1403.6 L1119.8 1405.4 L1120.8 1407.1 L1121.7 1408.8 L1122.7 1410.5 L1123.7 1412.2 L1124.7 1413.9 L1125.6 1415.6 L1126.7 1417.3 L1127.7 1419.0 L1128.7 1420.6 L1129.7 1422.3 L1130.8 1424.0 L1131.9 1425.6 L1133.0 1427.2 L1134.1 1428.9 L1135.2 1430.5 L1136.4 1432.1 L1137.6 1433.7 L1138.7 1435.3 L1140.0 1436.9 L1141.2 1438.5 L1142.5 1440.0 L1143.8 1441.6 L1145.1 1443.1 L1146.4 1444.7 L1147.8 1446.2 L1149.2 1447.7 L1150.7 1449.2 L1152.1 1450.6 L1153.6 1452.1 L1155.2 1453.5 L1156.8 1455.0 L1158.4 1456.4 L1160.0 1457.8 L1161.7 1459.1 L1163.4 1460.5 L1165.1 1461.7 L1166.9 1462.9 L1168.7 1464.0 L1170.5 1465.0 L1172.3 1465.9 L1174.1 1466.7 L1176.0 1467.3 L1177.8 1467.7 L1179.7 1468.0 L1181.6 1468.0 L1183.4 1467.9 L1185.3 1467.6 L1187.1 1467.1 L1189.0 1466.4 L1190.8 1465.6 L1192.6 1464.7 L1194.3 1463.6 L1196.1 1462.5 L1197.8 1461.4 L1199.5 1460.1 L1201.2 1458.9 L1202.8 1457.6 L1204.4 1456.3 L1205.9 1455.0 L1207.4 1453.7 L1208.9 1452.3 L1210.3 1450.9 L1211.8 1449.5 L1213.1 1448.1 L1214.5 1446.7 L1215.8 1445.2 L1217.1 1443.7 L1218.4 1442.2 L1219.6 1440.7 L1220.8 1439.1 L1222.0 1437.6 L1223.2 1436.0 L1224.3 1434.4 L1225.4 1432.8 L1226.5 1431.1 L1227.5 1429.5 L1228.5 1427.8 L1229.5 1426.1 L1230.5 1424.4 L1231.5 1422.7 L1232.4 1421.0 L1233.3 1419.2 L1234.2 1417.5 L1235.1 1415.7 L1235.9 1413.9 L1236.8 1412.1 L1237.6 1410.3 L1238.4 1408.5 L1239.1 1406.6 L1239.9 1404.8 L1240.6 1402.9 L1241.4 1401.1 L1242.1 1399.2 L1242.8 1397.3 L1243.4 1395.4 L1244.1 1393.5 L1244.8 1391.6 L1245.4 1389.7 L1246.0 1387.8 L1246.7 1385.8 L1247.3 1383.9 L1247.9 1381.9 L1248.4 1380.0 L1249.0 1378.0 L1249.6 1376.1 L1250.1 1374.1 L1250.7 1372.1 L1251.2 1370.2 L1251.8 1368.2 L1252.3 1366.2 L1252.8 1364.2 L1253.4 1362.3 L1253.9 1360.3 L1254.4 1358.3 L1254.9 1356.3 L1255.4 1354.3 L1255.9 1352.3 L1256.4 1350.4 L1256.9 1348.4 L1257.4 1346.4 L1257.9 1344.4 L1258.4 1342.4 L1258.9 1340.4 L1259.4 1338.5 L1259.9 1336.5 L1260.4 1334.5 L1260.9 1332.5 L1261.4 1330.5 L1261.9 1328.5 L1262.3 1326.6 L1262.8 1324.6 L1263.3 1322.6 L1263.8 1320.6 L1264.3 1318.7 L1264.7 1316.7 L1265.2 1314.7 L1265.7 1312.7 L1266.2 1310.8 L1266.6 1308.8 L1267.1 1306.8 L1267.6 1304.8 L1268.0 1302.9 L1268.5 1300.9 L1269.0 1298.9 L1269.4 1296.9 L1269.9 1295.0 L1270.3 1293.0 L1270.8 1291.0 L1271.3 1289.0 L1271.7 1287.1 L1272.2 1285.1 L1272.6 1283.1 L1273.1 1281.2 L1273.5 1279.2 L1274.0 1277.2 L1274.4 1275.3 L1274.9 1273.3 L1275.3 1271.3 L1275.7 1269.3 L1276.2 1267.4 L1276.6 1265.4 L1277.1 1263.4 L1277.5 1261.5 L1277.9 1259.5 L1278.4 1257.5 L1278.8 1255.6 L1279.2 1253.6 L1279.7 1251.7 L1280.1 1249.7 L1280.5 1247.7 L1281.0 1245.8 L1281.4 1243.8 L1281.8 1241.8 L1282.2 1239.9 L1282.7 1237.9 L1283.1 1235.9 L1283.5 1234.0 L1283.9 1232.0 L1284.3 1230.0 L1284.7 1228.1 L1285.2 1226.1 L1285.6 1224.2 L1286.0 1222.2 L1286.4 1220.2 L1286.8 1218.3 L1287.2 1216.3 L1287.6 1214.4 L1288.0 1212.4 L1288.4 1210.4 L1288.8 1208.5 L1289.2 1206.5 L1289.6 1204.6 L1290.0 1202.6 L1290.5 1200.6 L1290.8 1198.7 L1291.2 1196.7 L1291.6 1194.8 L1292.0 1192.8 L1292.4 1190.8 L1292.8 1188.9 L1293.2 1186.9 L1293.6 1185.0 L1294.0 1183.0 L1294.4 1181.0 L1294.8 1179.1 L1295.2 1177.1 L1295.6 1175.2 L1295.9 1173.2 L1296.3 1171.2 L1296.7 1169.3 L1297.1 1167.3 L1297.5 1165.4 L1297.9 1163.4 L1298.2 1161.5 L1298.6 1159.5 L1299.0 1157.5 L1299.4 1155.6 L1299.7 1153.6 L1300.1 1151.7 L1300.5 1149.7 L1300.9 1147.8 L1301.2 1145.8 L1301.6 1143.8 L1302.0 1141.9 L1302.4 1139.9 L1302.7 1138.0 L1303.1 1136.0 L1303.5 1134.1 L1303.8 1132.1 L1304.2 1130.1 L1304.6 1128.2 L1304.9 1126.2 L1305.3 1124.3 L1305.6 1122.3 L1306.0 1120.4 L1306.4 1118.4 L1306.7 1116.4 L1307.1 1114.5 L1307.5 1112.5 L1307.8 1110.6 L1308.2 1108.6 L1308.5 1106.6 L1308.9 1104.7 L1309.2 1102.7 L1309.6 1100.8 L1309.9 1098.8 L1310.3 1096.9 L1310.6 1094.9 L1311.0 1092.9 L1311.3 1091.0 L1311.7 1089.0 L1312.0 1087.1 L1312.4 1085.1 L1312.7 1083.1 L1313.1 1081.2 L1313.4 1079.2 L1313.8 1077.3 L1314.1 1075.3 L1314.5 1073.3 L1314.8 1071.4 L1315.2 1069.4 L1315.5 1067.5 L1315.8 1065.5 L1316.2 1063.5 L1316.5 1061.6 L1316.9 1059.6 L1317.2 1057.7 L1317.6 1055.7 L1317.9 1053.7 L1318.2 1051.8 L1318.6 1049.8 L1318.9 1047.8 L1319.2 1045.9 L1319.6 1043.9 L1319.9 1042.0 L1320.3 1040.0 L1320.6 1038.0 L1320.9 1036.1 L1321.3 1034.1 L1321.6 1032.1 L1321.9 1030.2 L1322.3 1028.2 L1322.6 1026.2 L1322.9 1024.3 L1323.2 1022.3 L1323.6 1020.3 L1323.9 1018.4 L1324.2 1016.4 L1324.6 1014.4 L1324.9 1012.5 L1325.2 1010.5 L1325.6 1008.5 L1325.9 1006.6 L1326.2 1004.6 L1326.5 1002.6 L1326.9 1000.7 L1327.2 998.7 L1327.5 996.7 L1327.8 994.8 L1328.2 992.8 L1328.5 990.8 L1328.8 988.9 L1329.1 986.9 L1329.5 984.9 L1329.8 982.9 L1330.1 981.0 L1330.4 979.0 L1330.8 977.0 L1331.1 975.1 L1331.4 973.1 L1331.7 971.1 L1332.0 969.2 L1332.4 967.2 L1332.7 965.2 L1333.0 963.2 L1333.3 961.3 L1333.6 959.3 L1334.0 957.3 L1334.3 955.3 L1334.6 953.4 L1334.9 951.4 L1335.2 949.4 L1335.5 947.5 L1335.9 945.5 L1336.2 943.5 L1336.5 941.5 L1336.8 939.6 L1337.1 937.6 L1337.4 935.6 L1337.8 933.6 L1338.1 931.7 L1338.4 929.7 L1338.7 927.7 L1339.0 925.7 L1339.3 923.8 L1339.6 921.8 L1340.0 919.8 L1340.3 917.8 L1340.6 915.8 L1340.9 913.9 L1341.2 911.9 L1341.5 909.9 L1341.8 907.9 L1342.1 906.0 L1342.4 904.0 L1342.8 902.0 L1343.1 900.0 L1343.4 898.1 L1343.7 896.1 L1344.0 894.1 L1344.3 892.1 L1344.6 890.1 L1344.9 888.2 L1345.2 886.2 L1345.5 884.2 L1345.9 882.2 L1346.2 880.3 L1346.5 878.3 L1346.8 876.3 L1347.1 874.3 L1347.4 872.3 L1347.7 870.4 L1348.0 868.4 L1348.3 866.4 L1348.6 864.4 L1348.9 862.4 L1349.2 860.5 L1349.6 858.5 L1349.9 856.5 L1350.2 854.5 L1350.5 852.5 L1350.8 850.6 L1351.1 848.6 L1351.4 846.6 L1351.7 844.6 L1352.0 842.6 L1352.3 840.7 L1352.6 838.7 L1352.9 836.7 L1353.2 834.7 L1353.5 832.7 L1353.8 830.8 L1354.1 828.8 L1354.4 826.8 L1354.8 824.8 L1355.1 822.8 L1355.4 820.8 L1355.7 818.9 L1356.0 816.9 L1356.3 814.9 L1356.6 812.9 L1356.9 810.9 L1357.2 809.0 L1357.5 807.0 L1357.8 805.0 L1358.1 803.0 L1358.4 801.0 L1358.7 799.0 L1359.0 797.1 L1359.3 795.1 L1359.6 793.1 L1359.9 791.1 L1360.2 789.1 L1360.5 787.2 L1360.9 785.2 L1361.2 783.2 L1361.5 781.2 L1361.8 779.2 L1362.1 777.2 L1362.4 775.3 L1362.7 773.3 L1363.0 771.3 L1363.3 769.3 L1363.6 767.3 L1363.9 765.3 L1364.2 763.4 L1364.5 761.4 L1364.8 759.4 L1365.1 757.4 L1365.4 755.4 L1365.7 753.5 L1366.0 751.5 L1366.3 749.5 L1366.6 747.5 L1367.0 745.5 L1367.3 743.5 L1367.6 741.6 L1367.9 739.6 L1368.2 737.6 L1368.5 735.6 L1368.8 733.6 L1369.1 731.6 L1369.4 729.7 L1369.7 727.7 L1370.0 725.7 L1370.3 723.7 L1370.6 721.7 L1370.9 719.8 L1371.2 717.8 L1371.5 715.8 L1371.9 713.8 L1372.2 711.8 L1372.5 709.8 L1372.8 707.9 L1373.1 705.9 L1373.4 703.9 L1373.7 701.9 L1374.0 699.9 L1374.3 698.0 L1374.6 696.0 L1374.9 694.0 L1375.2 692.0 L1375.6 690.0 L1375.9 688.0 L1376.2 686.1 L1376.5 684.1 L1376.8 682.1 L1377.1 680.1 L1377.4 678.1 L1377.7 676.2 L1378.0 674.2 L1378.3 672.2 L1378.7 670.2 L1379.0 668.2 L1379.3 666.3 L1379.6 664.3 L1379.9 662.3 L1380.2 660.3 L1380.5 658.3 L1380.8 656.3 L1381.2 654.4 L1381.5 652.4 L1381.8 650.4 L1382.1 648.4 L1382.4 646.4 L1382.7 644.5 L1383.0 642.5 L1383.4 640.5 L1383.7 638.5 L1384.0 636.6 L1384.3 634.6 L1384.6 632.6 L1384.9 630.6 L1385.3 628.6 L1385.6 626.7 L1385.9 624.7 L1386.2 622.7 L1386.5 620.7 L1386.8 618.7 L1387.2 616.8 L1387.5 614.8 L1387.8 612.8 L1388.1 610.8 L1388.4 608.9 L1388.8 606.9 L1389.1 604.9 L1389.4 602.9 L1389.7 600.9 L1390.1 599.0 L1390.4 597.0 L1390.7 595.0 L1391.0 593.0 L1391.4 591.1 L1391.7 589.1 L1392.0 587.1 L1392.3 585.1 L1392.7 583.2 L1393.0 581.2 L1393.3 579.2 L1393.7 577.2 L1394.0 575.3 L1394.3 573.3 L1394.6 571.3 L1395.0 569.3 L1395.3 567.4 L1395.6 565.4 L1396.0 563.4 L1396.3 561.4 L1396.7 559.5 L1397.0 557.5 L1397.3 555.5 L1397.7 553.5 L1398.0 551.6 L1398.3 549.6 L1398.7 547.6 L1399.0 545.7 L1399.4 543.7 L1399.7 541.7 L1400.0 539.7 L1400.4 537.8 L1400.7 535.8 L1401.1 533.8 L1401.4 531.9 L1401.8 529.9 L1402.1 527.9 L1402.5 526.0 L1402.8 524.0 L1403.1 522.0 L1403.5 520.0 L1403.8 518.1 L1404.2 516.1 L1404.6 514.1 L1404.9 512.2 L1405.3 510.2 L1405.6 508.2 L1406.0 506.3 L1406.3 504.3 L1406.7 502.3 L1407.0 500.4 L1407.4 498.4 L1407.8 496.4 L1408.1 494.5 L1408.5 492.5 L1408.8 490.6 L1409.2 488.6 L1409.6 486.6 L1409.9 484.7 L1410.3 482.7 L1410.7 480.7 L1411.0 478.8 L1411.4 476.8 L1411.8 474.8 L1412.2 472.9 L1412.5 470.9 L1412.9 469.0 L1413.3 467.0 L1413.6 465.0 L1414.0 463.1 L1414.4 461.1 L1414.8 459.2 L1415.2 457.2 L1415.5 455.2 L1415.9 453.3 L1416.3 451.3 L1416.7 449.4 L1417.1 447.4 L1417.5 445.5 L1417.8 443.5 L1418.2 441.5 L1418.6 439.6 L1419.0 437.6 L1419.4 435.7 L1419.8 433.7 L1420.2 431.8 L1420.6 429.8 L1421.0 427.9 L1421.4 425.9 L1421.8 424.0 L1422.2 422.0 L1422.6 420.0 L1423.0 418.1 L1423.4 416.1 L1423.8 414.2 L1424.2 412.2 L1424.6 410.3 L1425.0 408.3 L1425.4 406.4 L1425.8 404.4 L1426.2 402.5 L1426.7 400.5 L1427.1 398.6 L1427.5 396.6 L1427.9 394.7 L1428.3 392.8 L1428.8 390.8 L1429.2 388.9 L1429.6 386.9 L1430.0 385.0 L1430.4 383.0 L1430.9 381.1 L1431.3 379.1 L1431.7 377.2 L1432.2 375.3 L1432.6 373.3 L1433.0 371.4 L1433.5 369.4 L1433.9 367.5 L1434.3 365.5 L1434.8 363.6 L1435.2 361.7 L1435.7 359.7 L1436.1 357.8 L1436.6 355.8 L1437.0 353.9 L1437.5 352.0 L1437.9 350.0 L1438.4 348.1 L1438.8 346.2 L1439.3 344.2 L1439.7 342.3 L1440.2 340.4 L1440.6 338.4 L1441.1 336.5 L1441.6 334.6 L1442.0 332.6 L1442.5 330.7 L1443.0 328.8 L1443.4 326.8 L1443.9 324.9 L1444.4 323.0 L1444.8 321.0 L1445.3 319.1 L1445.8 317.2 L1446.3 315.2 L1446.8 313.3 L1447.2 311.4 L1447.7 309.5 L1448.2 307.5 L1448.7 305.6 L1449.2 303.6 L1449.8 301.7 L1450.3 299.8 L1450.8 297.8 L1451.3 295.9 L1451.9 293.9 L1452.4 292.0 L1452.9 290.0 L1453.5 288.1 L1454.1 286.1 L1454.6 284.1 L1455.2 282.2 L1455.8 280.2 L1456.4 278.2 L1457.0 276.2 L1457.6 274.2 L1458.3 272.2 L1458.9 270.2 L1459.6 268.2 L1460.2 266.2 L1460.9 264.2 L1461.6 262.2 L1462.4 260.3 L1463.2 258.3 L1464.0 256.4 L1464.9 254.6 L1465.8 252.7 L1466.8 250.9 L1467.9 249.2 L1469.0 247.6 L1470.2 246.0 L1471.4 244.4 L1472.8 243.0 L1474.2 241.6 L1475.8 240.4 L1477.4 239.2 L1479.1 238.1 L1480.9 237.2 L1482.8 236.3 L1484.7 235.6 L1486.7 235.1 L1488.6 234.7 L1490.6 234.4 L1492.5 234.4 L1494.4 234.5 L1496.2 234.8 L1498.0 235.3 L1499.6 236.1 L1501.2 237.0 L1502.6 238.2 L1504.0 239.5 L1505.2 240.9 L1506.4 242.5 L1507.6 244.2 L1508.7 246.0 L1509.7 247.8 L1510.7 249.7 L1511.7 251.6 L1512.7 253.5 L1513.6 255.4 L1514.5 257.3 L1515.4 259.1 L1516.3 261.0 L1517.2 262.9 L1518.0 264.8 L1518.8 266.8 L1519.7 268.7 L1520.4 270.6 L1521.2 272.5 L1522.0 274.4 L1522.7 276.3 L1523.5 278.2 L1524.2 280.1 L1524.9 282.0 L1525.6 283.9 L1526.2 285.8 L1526.9 287.8 L1527.5 289.7 L1528.2 291.6 L1528.8 293.5 L1529.4 295.4 L1530.0 297.3 L1530.6 299.3 L1531.2 301.2 L1531.7 303.1 L1532.3 305.0 L1532.8 307.0 L1533.3 308.9 L1533.9 310.8 L1534.4 312.7 L1534.9 314.7 L1535.4 316.6 L1535.9 318.5 L1536.4 320.5 L1536.9 322.4 L1537.3 324.3 L1537.8 326.3 L1538.2 328.2 L1538.7 330.1 L1539.2 332.1 L1539.6 334.0 L1540.0 336.0 L1540.5 337.9 L1540.9 339.8 L1541.3 341.8 L1541.8 343.7 L1542.2 345.7 L1542.6 347.6 L1543.0 349.5 L1543.5 351.5 L1543.9 353.4 L1544.3 355.4 L1544.7 357.3 L1545.1 359.3 L1545.5 361.2 L1545.9 363.2 L1546.3 365.1 L1546.7 367.1 L1547.1 369.0 L1547.5 371.0 L1547.9 372.9 L1548.3 374.9 L1548.7 376.8 L1549.1 378.8 L1549.5 380.7 L1549.9 382.7 L1550.3 384.6 L1550.7 386.6 L1551.1 388.6 L1551.5 390.5 L1551.8 392.5 L1552.2 394.4 L1552.6 396.4 L1553.0 398.4 L1553.4 400.3 L1553.7 402.3 L1554.1 404.2 L1554.5 406.2 L1554.8 408.2 L1555.2 410.1 L1555.6 412.1 L1555.9 414.1 L1556.3 416.0 L1556.7 418.0 L1557.0 419.9 L1557.4 421.9 L1557.8 423.9 L1558.1 425.8 L1558.5 427.8 L1558.8 429.8 L1559.2 431.8 L1559.5 433.7 L1559.9 435.7 L1560.2 437.7 L1560.6 439.6 L1560.9 441.6 L1561.3 443.6 L1561.6 445.5 L1561.9 447.5 L1562.3 449.5 L1562.6 451.5 L1562.9 453.4 L1563.3 455.4 L1563.6 457.4 L1564.0 459.4 L1564.3 461.3 L1564.6 463.3 L1564.9 465.3 L1565.3 467.3 L1565.6 469.2 L1565.9 471.2 L1566.3 473.2 L1566.6 475.2 L1566.9 477.1 L1567.2 479.1 L1567.5 481.1 L1567.9 483.1 L1568.2 485.0 L1568.5 487.0 L1568.8 489.0 L1569.1 491.0 L1569.4 493.0 L1569.7 494.9 L1570.1 496.9 L1570.4 498.9 L1570.7 500.9 L1571.0 502.9 L1571.3 504.8 L1571.6 506.8 L1571.9 508.8 L1572.2 510.8 L1572.5 512.8 L1572.8 514.8 L1573.1 516.7 L1573.4 518.7 L1573.7 520.7 L1574.0 522.7 L1574.3 524.7 L1574.6 526.7 L1574.9 528.6 L1575.2 530.6 L1575.5 532.6 L1575.8 534.6 L1576.1 536.6 L1576.3 538.6 L1576.6 540.5 L1576.9 542.5 L1577.2 544.5 L1577.5 546.5 L1577.8 548.5 L1578.1 550.5 L1578.4 552.5 L1578.6 554.4 L1578.9 556.4 L1579.2 558.4 L1579.5 560.4 L1579.8 562.4 L1580.0 564.4 L1580.3 566.3 L1580.6 568.3 L1580.9 570.3 L1581.2 572.3 L1581.4 574.3 L1581.7 576.3 L1582.0 578.3 L1582.3 580.2 L1582.5 582.2 L1582.8 584.2 L1583.1 586.2 L1583.3 588.2 L1583.6 590.2 L1583.9 592.2 L1584.2 594.1 L1584.4 596.1 L1584.7 598.1 L1585.0 600.1 L1585.2 602.1 L1585.5 604.1 L1585.8 606.1 L1586.0 608.0 L1586.3 610.0 L1586.5 612.0 L1586.8 614.0 L1587.1 616.0 L1587.3 618.0 L1587.6 620.0 L1587.9 621.9 L1588.1 623.9 L1588.4 625.9 L1588.6 627.9 L1588.9 629.9 L1589.2 631.9 L1589.4 633.9 L1589.7 635.8 L1589.9 637.8 L1590.2 639.8 L1590.4 641.8 L1590.7 643.8 L1590.9 645.8 L1591.2 647.8 L1591.4 649.7 L1591.7 651.7 L1591.9 653.7 L1592.2 655.7 L1592.4 657.7 L1592.7 659.7 L1592.9 661.7 L1593.2 663.6 L1593.4 665.6 L1593.7 667.6 L1593.9 669.6 L1594.2 671.6 L1594.4 673.6 L1594.7 675.6 L1594.9 677.6 L1595.2 679.5 L1595.4 681.5 L1595.7 683.5 L1595.9 685.5 L1596.1 687.5 L1596.4 689.5 L1596.6 691.5 L1596.9 693.4 L1597.1 695.4 L1597.3 697.4 L1597.6 699.4 L1597.8 701.4 L1598.1 703.4 L1598.3 705.4 L1598.5 707.3 L1598.8 709.3 L1599.0 711.3 L1599.2 713.3 L1599.5 715.3 L1599.7 717.3 L1599.9 719.3 L1600.2 721.3 L1600.4 723.2 L1600.6 725.2 L1600.9 727.2 L1601.1 729.2 L1601.3 731.2 L1601.6 733.2 L1601.8 735.2 L1602.0 737.2 L1602.3 739.1 L1602.5 741.1 L1602.7 743.1 L1603.0 745.1 L1603.2 747.1 L1603.4 749.1 L1603.6 751.1 L1603.9 753.0 L1604.1 755.0 L1604.3 757.0 L1604.6 759.0 L1604.8 761.0 L1605.0 763.0 L1605.2 765.0 L1605.5 767.0 L1605.7 768.9 L1605.9 770.9 L1606.1 772.9 L1606.4 774.9 L1606.6 776.9 L1606.8 778.9 L1607.0 780.9 L1607.2 782.9 L1607.5 784.9 L1607.7 786.8 L1607.9 788.8 L1608.1 790.8 L1608.3 792.8 L1608.6 794.8 L1608.8 796.8 L1609.0 798.8 L1609.2 800.8 L1609.4 802.7 L1609.7 804.7 L1609.9 806.7 L1610.1 808.7 L1610.3 810.7 L1610.5 812.7 L1610.7 814.7 L1611.0 816.7 L1611.2 818.6 L1611.4 820.6 L1611.6 822.6 L1611.8 824.6 L1612.0 826.6 L1612.3 828.6 L1612.5 830.6 L1612.7 832.6 L1612.9 834.6 L1613.1 836.5 L1613.3 838.5 L1613.5 840.5 L1613.8 842.5 L1614.0 844.5 L1614.2 846.5 L1614.4 848.5 L1614.6 850.5 L1614.8 852.5 L1615.0 854.4 L1615.2 856.4 L1615.5 858.4 L1615.7 860.4 L1615.9 862.4 L1616.1 864.4 L1616.3 866.4 L1616.5 868.4 L1616.7 870.4 L1616.9 872.3 L1617.1 874.3 L1617.3 876.3 L1617.6 878.3 L1617.8 880.3 L1618.0 882.3 L1618.2 884.3 L1618.4 886.3 L1618.6 888.3 L1618.8 890.3 L1619.0 892.2 L1619.2 894.2 L1619.4 896.2 L1619.6 898.2 L1619.8 900.2 L1620.1 902.2 L1620.3 904.2 L1620.5 906.2 L1620.7 908.2 L1620.9 910.2 L1621.1 912.1 L1621.3 914.1 L1621.5 916.1 L1621.7 918.1 L1621.9 920.1 L1622.1 922.1 L1622.3 924.1 L1622.5 926.1 L1622.7 928.1 L1622.9 930.1 L1623.1 932.1 L1623.3 934.0 L1623.5 936.0 L1623.7 938.0 L1624.0 940.0 L1624.2 942.0 L1624.4 944.0 L1624.6 946.0 L1624.8 948.0 L1625.0 950.0 L1625.2 952.0 L1625.4 953.9 L1625.6 955.9 L1625.8 957.9 L1626.0 959.9 L1626.2 961.9 L1626.4 963.9 L1626.6 965.9 L1626.8 967.9 L1627.0 969.9 L1627.2 971.9 L1627.4 973.9 L1627.6 975.9 L1627.8 977.8 L1628.0 979.8 L1628.2 981.8 L1628.4 983.8 L1628.6 985.8 L1628.8 987.8 L1629.0 989.8 L1629.2 991.8 L1629.4 993.8 L1629.6 995.8 L1629.8 997.8 L1630.0 999.8 L1630.2 1001.7 L1630.4 1003.7 L1630.6 1005.7 L1630.8 1007.7 L1631.0 1009.7 L1631.2 1011.7 L1631.4 1013.7 L1631.6 1015.7 L1631.8 1017.7 L1632.0 1019.7 L1632.2 1021.7 L1632.4 1023.7 L1632.6 1025.6 L1632.8 1027.6 L1632.9 1029.6 L1633.1 1031.6 L1633.3 1033.6 L1633.5 1035.6 L1633.7 1037.6 L1633.9 1039.6 L1634.1 1041.6 L1634.3 1043.6 L1634.5 1045.6 L1634.7 1047.6 L1634.9 1049.5 L1635.1 1051.5 L1635.3 1053.5 L1635.5 1055.5 L1635.7 1057.5 L1635.9 1059.5 L1636.1 1061.5 L1636.3 1063.5 L1636.5 1065.5 L1636.7 1067.5 L1636.9 1069.5 L1637.0 1071.5 L1637.2 1073.5 L1637.4 1075.5 L1637.6 1077.4 L1637.8 1079.4 L1638.0 1081.4 L1638.2 1083.4 L1638.4 1085.4 L1638.6 1087.4 L1638.8 1089.4 L1639.0 1091.4 L1639.2 1093.4 L1639.4 1095.4 L1639.6 1097.4 L1639.7 1099.4 L1639.9 1101.4 L1640.1 1103.3 L1640.3 1105.3 L1640.5 1107.3 L1640.7 1109.3 L1640.9 1111.3 L1641.1 1113.3 L1641.3 1115.3 L1641.5 1117.3 L1641.7 1119.3 L1641.9 1121.3 L1642.0 1123.3 L1642.2 1125.3 L1642.4 1127.3 L1642.6 1129.3 L1642.8 1131.2 L1643.0 1133.2 L1643.2 1135.2 L1643.4 1137.2 L1643.6 1139.2 L1643.8 1141.2 L1643.9 1143.2 L1644.1 1145.2 L1644.3 1147.2 L1644.5 1149.2 L1644.7 1151.2 L1644.9 1153.2 L1645.1 1155.2 L1645.3 1157.2 L1645.5 1159.1 L1645.7 1161.1 L1645.8 1163.1 L1646.0 1165.1 L1646.2 1167.1 L1646.4 1169.1 L1646.6 1171.1 L1646.8 1173.1 L1647.0 1175.1 L1647.2 1177.1 L1647.3 1179.1 L1647.5 1181.1 L1647.7 1183.1 L1647.9 1185.1 L1648.1 1187.1 L1648.3 1189.0 L1648.5 1191.0 L1648.7 1193.0 L1648.9 1195.0 L1649.0 1197.0 L1649.2 1199.0 L1649.4 1201.0 L1649.6 1203.0 L1649.8 1205.0 L1650.0 1207.0 L1650.2 1209.0 L1650.3 1211.0 L1650.5 1213.0 L1650.7 1215.0 L1650.9 1216.9 L1651.1 1218.9 L1651.3 1220.9 L1651.5 1222.9 L1651.7 1224.9 L1651.8 1226.9 L1652.0 1228.9 L1652.2 1230.9 L1652.4 1232.9 L1652.6 1234.9 L1652.8 1236.9 L1653.0 1238.9 L1653.1 1240.9 L1653.3 1242.9 L1653.5 1244.9 L1653.7 1246.8 L1653.9 1248.8 L1654.1 1250.8 L1654.3 1252.8 L1654.4 1254.8 L1654.6 1256.8 L1654.8 1258.8 L1655.0 1260.8 L1655.2 1262.8 L1655.4 1264.8 L1655.6 1266.8 L1655.7 1268.8 L1655.9 1270.8 L1656.1 1272.8 L1656.3 1274.7 L1656.5 1276.7 L1656.7 1278.7 L1656.8 1280.7 L1657.0 1282.7 L1657.2 1284.7 L1657.4 1286.7 L1657.6 1288.7 L1657.8 1290.7 L1658.0 1292.7 L1658.1 1294.7 L1658.3 1296.7 L1658.5 1298.7 L1658.7 1300.7 L1658.9 1302.7 L1659.1 1304.6 L1659.2 1306.6 L1659.4 1308.6 L1659.6 1310.6 L1659.8 1312.6 L1660.0 1314.6 L1660.2 1316.6 L1660.4 1318.6 L1660.5 1320.6 L1660.7 1322.6 L1660.9 1324.6 L1661.1 1326.6 L1661.3 1328.6 L1661.5 1330.6 L1661.6 1332.5 L1661.8 1334.5 L1662.0 1336.5 L1662.2 1338.5 L1662.4 1340.5 L1662.6 1342.5 L1662.7 1344.5 L1662.9 1346.5 L1663.1 1348.5 L1663.3 1350.5 L1663.5 1352.5 L1663.7 1354.5 L1663.8 1356.5 L1664.0 1358.5 L1664.2 1360.4 L1664.4 1362.4 L1664.6 1364.4 L1664.8 1366.4 L1664.9 1368.4 L1665.1 1370.4 L1665.3 1372.4 L1665.5 1374.4 L1665.7 1376.4 L1665.9 1378.4 L1666.0 1380.4 L1666.2 1382.4 L1666.4 1384.4 L1666.6 1386.3 L1666.8 1388.3 L1667.0 1390.3 L1667.1 1392.3 L1667.3 1394.3 L1667.5 1396.3 L1667.7 1398.3 L1667.9 1400.3 L1668.1 1402.3 L1668.2 1404.3 L1668.4 1406.3 L1668.6 1408.3 L1668.8 1410.3 L1669.0 1412.2 L1669.2 1414.2 L1669.3 1416.2 L1669.5 1418.2 L1669.7 1420.2 L1669.9 1422.2 L1670.1 1424.2 L1670.3 1426.2 L1670.4 1428.2 L1670.6 1430.2 L1670.8 1432.2 L1671.0 1434.2 L1671.2 1436.1 L1671.3 1438.1 L1671.5 1440.1 L1671.7 1442.1 L1671.9 1444.1 L1672.1 1446.1 L1672.3 1448.1 L1672.4 1450.1 L1672.6 1452.1 L1672.8 1454.1 L1673.0 1456.1 L1673.2 1458.1 L1673.4 1460.1 L1673.5 1462.0 L1673.7 1464.0 L1673.9 1466.0 L1674.1 1468.0 L1674.3 1470.0 L1674.5 1472.0 L1674.6 1474.0 L1674.8 1476.0 L1675.0 1478.0 L1675.2 1480.0 L1675.2 1482.0 L1681.8 1507.7 L1689.5 1537.0 L2170.0 1537.0" stroke="#ff0000"/>
</g>
<line x1="328.5" y1="642.5" x2="1004.5" y2="642.5" stroke="#000000" stroke-width="5"/>
<path d="M296.1 642.5 L334.5 632.5 L328.5 642.5 L334.5 652.5 Z" fill="#000000" stroke="#000000" stroke-width="3.4" stroke-linejoin="round"/>
<path d="M1036.9 642.5 L998.5 632.5 L1004.5 642.5 L998.5 652.5 Z" fill="#000000" stroke="#000000" stroke-width="3.4" stroke-linejoin="round"/>
<line x1="1074.5" y1="353.5" x2="1379.0" y2="353.5" stroke="#ff0000" stroke-width="5"/>
<path d="M1042.1 353.5 L1080.5 343.5 L1074.5 353.5 L1080.5 363.5 Z" fill="#ff0000" stroke="#ff0000" stroke-width="3.4" stroke-linejoin="round"/>
<path d="M1411.4 353.5 L1373.0 343.5 L1379.0 353.5 L1373.0 363.5 Z" fill="#ff0000" stroke="#ff0000" stroke-width="3.4" stroke-linejoin="round"/>
<line x1="1447.5" y1="165.4" x2="1754.5" y2="165.4" stroke="#0000ff" stroke-width="5"/>
<path d="M1415.1 165.4 L1453.5 155.4 L1447.5 165.4 L1453.5 175.4 Z" fill="#0000ff" stroke="#0000ff" stroke-width="3.4" stroke-linejoin="round"/>
<path d="M1786.9 165.4 L1748.5 155.4 L1754.5 165.4 L1748.5 175.4 Z" fill="#0000ff" stroke="#0000ff" stroke-width="3.4" stroke-linejoin="round"/>
<line x1="1820.5" y1="535.4" x2="2126.2" y2="535.4" stroke="#ff00ff" stroke-width="5"/>
<path d="M1788.1 535.4 L1826.5 525.4 L1820.5 535.4 L1826.5 545.4 Z" fill="#ff00ff" stroke="#ff00ff" stroke-width="3.4" stroke-linejoin="round"/>
<path d="M2158.6 535.4 L2120.2 525.4 L2126.2 535.4 L2120.2 545.4 Z" fill="#ff00ff" stroke="#ff00ff" stroke-width="3.4" stroke-linejoin="round"/>
<g transform="matrix(1.00000 0 0 1.03571 0.800 -58.143)"><text x="244.0" y="1558.0" font-size="64" text-anchor="end" fill="#000" font-family="Liberation Serif, Times New Roman, serif">0.0</text></g>
<g transform="matrix(0.98667 0 0 1.04524 3.213 -56.155)"><text x="244.0" y="1217.3" font-size="64" text-anchor="end" fill="#000" font-family="Liberation Serif, Times New Roman, serif">0.5</text></g>
<g transform="matrix(0.98889 0 0 1.04524 3.589 -41.874)"><text x="244.0" y="876.6" font-size="64" text-anchor="end" fill="#000" font-family="Liberation Serif, Times New Roman, serif">1.0</text></g>
<g transform="matrix(0.97183 0 0 1.04762 6.789 -27.024)"><text x="244.0" y="535.9" font-size="64" text-anchor="end" fill="#000" font-family="Liberation Serif, Times New Roman, serif">1.5</text></g>
<g transform="matrix(1.03200 0 0 1.04762 -6.544 -11.486)"><text x="244.0" y="195.2" font-size="64" text-anchor="end" fill="#000" font-family="Liberation Serif, Times New Roman, serif">2.0</text></g>
<g transform="matrix(0.95405 0 0 1.04762 11.508 -77.905)"><text x="294.5" y="1636.0" font-size="64" text-anchor="middle" fill="#000" font-family="Liberation Serif, Times New Roman, serif">0.1</text></g>
<g transform="matrix(1.00000 0 0 1.02857 -0.900 -47.543)"><text x="667.7" y="1636.0" font-size="64" text-anchor="middle" fill="#000" font-family="Liberation Serif, Times New Roman, serif">1</text></g>
<g transform="matrix(1.00179 0 0 1.04762 -1.713 -77.905)"><text x="1040.9" y="1636.0" font-size="64" text-anchor="middle" fill="#000" font-family="Liberation Serif, Times New Roman, serif">10</text></g>
<g transform="matrix(0.99091 0 0 1.04762 14.273 -77.905)"><text x="1414.1" y="1636.0" font-size="64" text-anchor="middle" fill="#000" font-family="Liberation Serif, Times New Roman, serif">100</text></g>
<g transform="matrix(0.98917 0 0 1.04762 20.231 -78.505)"><text x="1787.3" y="1636.0" font-size="64" text-anchor="middle" fill="#000" font-family="Liberation Serif, Times New Roman, serif">1000</text></g>
<g transform="matrix(1.00000 0 0 1.04762 0.900 -78.505)"><text x="2160.5" y="1636.0" font-size="64" text-anchor="middle" fill="#000" font-family="Liberation Serif, Times New Roman, serif">10000</text></g>
<g transform="matrix(1.00356 0 0 0.99000 -4.016 17.240)"><text x="1352.0" y="1758.0" font-size="78" text-anchor="middle" fill="#000" font-family="Liberation Serif, Times New Roman, serif">Pore size (nm)</text></g>
<g transform="matrix(0.99172 0 0 1.00727 3.861 -1.838)"><text x="536.0" y="127.5" font-size="79" text-anchor="start" fill="#000" font-family="Liberation Serif, Times New Roman, serif">Coal</text></g>
<g transform="matrix(1.02615 0 0 1.02692 -14.441 -7.031)"><text x="536.0" y="223.0" font-size="79" text-anchor="start" fill="#000" font-family="Liberation Serif, Times New Roman, serif">APAM</text></g>
<g transform="matrix(0.99264 0 0 1.05000 2.875 -16.950)"><text x="536.0" y="320.0" font-size="79" text-anchor="start" fill="#000" font-family="Liberation Serif, Times New Roman, serif">30 KHz + 3min</text></g>
<g transform="matrix(1.00790 0 0 1.00000 -4.252 -0.200)"><text x="498.0" y="618.0" font-size="64" text-anchor="start" fill="#000" font-family="Liberation Serif, Times New Roman, serif">Micropores</text></g>
<g transform="matrix(1.01351 0 0 1.00238 -14.011 -0.533)"><text x="1095.0" y="224.0" font-size="64" text-anchor="start" fill="#ff0000" font-family="Liberation Serif, Times New Roman, serif">Transition</text></g>
<g transform="matrix(1.01704 0 0 1.00227 -19.773 -0.759)"><text x="1095.0" y="319.6" font-size="64" text-anchor="start" fill="#ff0000" font-family="Liberation Serif, Times New Roman, serif">pores</text></g>
<g transform="matrix(1.01336 0 0 0.98750 -19.802 1.463)"><text x="1458.0" y="143.0" font-size="64" text-anchor="start" fill="#0000ff" font-family="Liberation Serif, Times New Roman, serif">Mesopores</text></g>
<g transform="matrix(1.00963 0 0 0.99286 -17.483 3.564)"><text x="1823.0" y="513.3" font-size="64" text-anchor="start" fill="#ff00ff" font-family="Liberation Serif, Times New Roman, serif">Macropores</text></g>
<text transform="translate(76,740) rotate(-90)" font-size="78" text-anchor="middle" font-family="Liberation Serif, Times New Roman, serif">Proportion (%)</text>
<rect x="341" y="98" width="176" height="6" fill="#000000"/>
<rect x="341" y="194" width="176" height="6" fill="#00ff00"/>
<rect x="341" y="290" width="176" height="6" fill="#ff0000"/>
</svg>
</body></html>
